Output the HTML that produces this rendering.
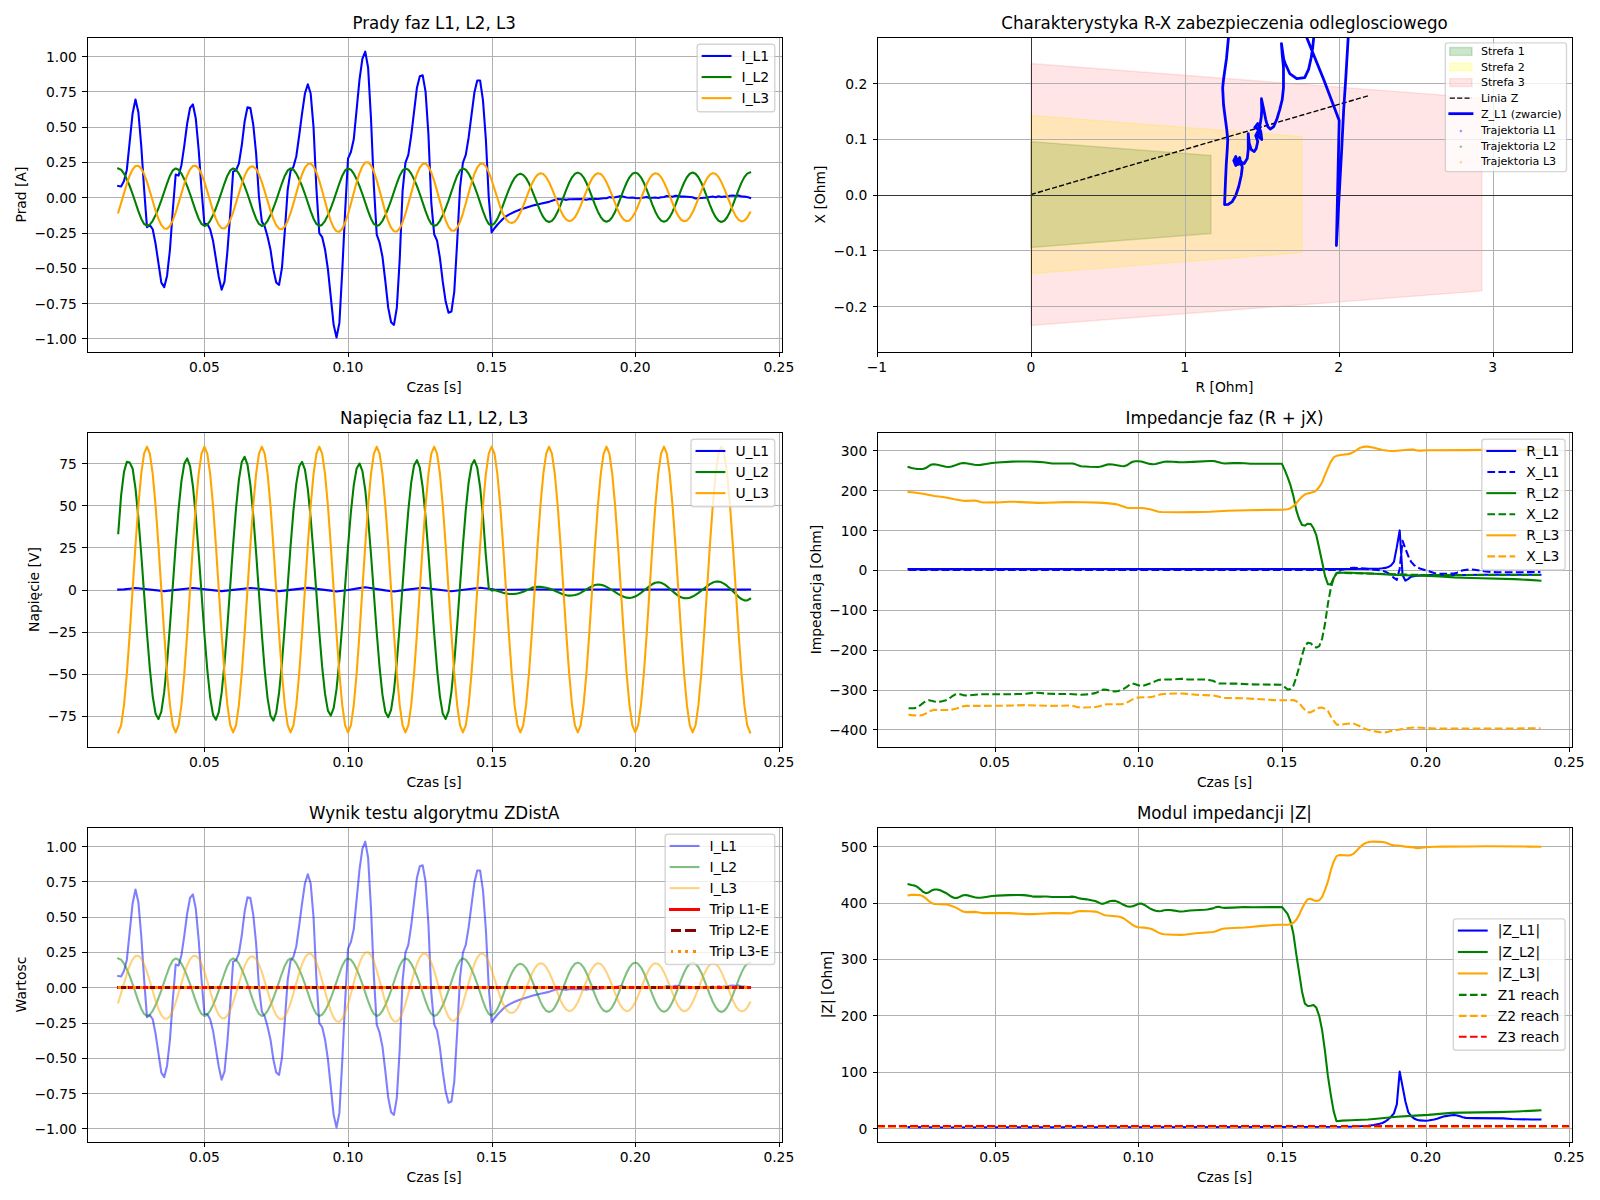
<!DOCTYPE html>
<html><head><meta charset="utf-8"><title>ZDistA</title>
<style>html,body{margin:0;padding:0;background:#fff;}svg{display:block;}text{font-family:"DejaVu Sans","Liberation Sans",sans-serif;}</style></head><body>
<svg width="1600" height="1200" viewBox="0 0 1152 864" version="1.1">
 
 <defs>
  <style type="text/css">*{stroke-linejoin: round; stroke-linecap: butt}</style>
 </defs>
 <g id="figure_1">
  <g id="patch_1">
   <path d="M 0 864 
L 1152 864 
L 1152 0 
L 0 0 
z
" style="fill: #ffffff"/>
  </g>
  <g id="axes_1">
   <g id="patch_2">
    <path d="M 62.39 253.24 
L 562.826935 253.24 
L 562.826935 26.88 
L 62.39 26.88 
z
" style="fill: #ffffff"/>
   </g>
   <g id="matplotlib.axis_1">
    <g id="xtick_1">
     <g id="line2d_1">
      <path d="M 147.17477 253.24 
L 147.17477 26.88 
" clip-path="url(#pdb59838db3)" style="fill: none; stroke: #b0b0b0; stroke-width: 0.72; stroke-linecap: square" shape-rendering="crispEdges" transform="translate(0.36 0.36)"/>
     </g>
     <g id="line2d_2">
      <defs>
       <path id="m608a63ae3f" d="M 0 0 
L 0 3.5 
" style="stroke: #000000; stroke-width: 0.72" shape-rendering="crispEdges"/>
      </defs>
      <g>
       <use xlink:href="#m608a63ae3f" x="147.17477" y="253.24" style="stroke: #000000; stroke-width: 0.72" shape-rendering="crispEdges" transform="translate(0.36 0.36)"/>
      </g>
     </g>
     <g id="text_1">
      <text style="font-size: 10px; font-family: 'DejaVu Sans', sans-serif; text-anchor: middle" x="147.17477" y="268.16" transform="rotate(-0 147.17477 268.16)">0.05</text>
     </g>
    </g>
    <g id="xtick_2">
     <g id="line2d_3">
      <path d="M 250.570831 253.24 
L 250.570831 26.88 
" clip-path="url(#pdb59838db3)" style="fill: none; stroke: #b0b0b0; stroke-width: 0.72; stroke-linecap: square" shape-rendering="crispEdges" transform="translate(0.36 0.36)"/>
     </g>
     <g id="line2d_4">
      <g>
       <use xlink:href="#m608a63ae3f" x="250.570831" y="253.24" style="stroke: #000000; stroke-width: 0.72" shape-rendering="crispEdges" transform="translate(0.36 0.36)"/>
      </g>
     </g>
     <g id="text_2">
      <text style="font-size: 10px; font-family: 'DejaVu Sans', sans-serif; text-anchor: middle" x="250.570831" y="268.16" transform="rotate(-0 250.570831 268.16)">0.10</text>
     </g>
    </g>
    <g id="xtick_3">
     <g id="line2d_5">
      <path d="M 353.966892 253.24 
L 353.966892 26.88 
" clip-path="url(#pdb59838db3)" style="fill: none; stroke: #b0b0b0; stroke-width: 0.72; stroke-linecap: square" shape-rendering="crispEdges" transform="translate(0.36 0.36)"/>
     </g>
     <g id="line2d_6">
      <g>
       <use xlink:href="#m608a63ae3f" x="353.966892" y="253.24" style="stroke: #000000; stroke-width: 0.72" shape-rendering="crispEdges" transform="translate(0.36 0.36)"/>
      </g>
     </g>
     <g id="text_3">
      <text style="font-size: 10px; font-family: 'DejaVu Sans', sans-serif; text-anchor: middle" x="353.966892" y="268.16" transform="rotate(-0 353.966892 268.16)">0.15</text>
     </g>
    </g>
    <g id="xtick_4">
     <g id="line2d_7">
      <path d="M 457.362953 253.24 
L 457.362953 26.88 
" clip-path="url(#pdb59838db3)" style="fill: none; stroke: #b0b0b0; stroke-width: 0.72; stroke-linecap: square" shape-rendering="crispEdges" transform="translate(0.36 0.36)"/>
     </g>
     <g id="line2d_8">
      <g>
       <use xlink:href="#m608a63ae3f" x="457.362953" y="253.24" style="stroke: #000000; stroke-width: 0.72" shape-rendering="crispEdges" transform="translate(0.36 0.36)"/>
      </g>
     </g>
     <g id="text_4">
      <text style="font-size: 10px; font-family: 'DejaVu Sans', sans-serif; text-anchor: middle" x="457.362953" y="268.16" transform="rotate(-0 457.362953 268.16)">0.20</text>
     </g>
    </g>
    <g id="xtick_5">
     <g id="line2d_9">
      <path d="M 560.759013 253.24 
L 560.759013 26.88 
" clip-path="url(#pdb59838db3)" style="fill: none; stroke: #b0b0b0; stroke-width: 0.72; stroke-linecap: square" shape-rendering="crispEdges" transform="translate(0.36 0.36)"/>
     </g>
     <g id="line2d_10">
      <g>
       <use xlink:href="#m608a63ae3f" x="560.759013" y="253.24" style="stroke: #000000; stroke-width: 0.72" shape-rendering="crispEdges" transform="translate(0.36 0.36)"/>
      </g>
     </g>
     <g id="text_5">
      <text style="font-size: 10px; font-family: 'DejaVu Sans', sans-serif; text-anchor: middle" x="560.759013" y="268.16" transform="rotate(-0 560.759013 268.16)">0.25</text>
     </g>
    </g>
    <g id="text_6">
     <text style="font-size: 10px; font-family: 'DejaVu Sans', sans-serif; text-anchor: middle" x="312.608467" y="282.24" transform="rotate(-0 312.608467 282.24)">Czas [s]</text>
    </g>
   </g>
   <g id="matplotlib.axis_2">
    <g id="ytick_1">
     <g id="line2d_11">
      <path d="M 62.39 243.662605 
L 562.826935 243.662605 
" clip-path="url(#pdb59838db3)" style="fill: none; stroke: #b0b0b0; stroke-width: 0.72; stroke-linecap: square" shape-rendering="crispEdges" transform="translate(0.36 0.36)"/>
     </g>
     <g id="line2d_12">
      <defs>
       <path id="mea49831cd3" d="M 0 0 
L -3.5 0 
" style="stroke: #000000; stroke-width: 0.72" shape-rendering="crispEdges"/>
      </defs>
      <g>
       <use xlink:href="#mea49831cd3" x="62.39" y="243.662605" style="stroke: #000000; stroke-width: 0.72" shape-rendering="crispEdges" transform="translate(0.36 0.36)"/>
      </g>
     </g>
     <g id="text_7">
      <text style="font-size: 10px; font-family: 'DejaVu Sans', sans-serif; text-anchor: end" x="55.39" y="247.622605" transform="rotate(-0 55.39 247.622605)">−1.00</text>
     </g>
    </g>
    <g id="ytick_2">
     <g id="line2d_13">
      <path d="M 62.39 218.24489 
L 562.826935 218.24489 
" clip-path="url(#pdb59838db3)" style="fill: none; stroke: #b0b0b0; stroke-width: 0.72; stroke-linecap: square" shape-rendering="crispEdges" transform="translate(0.36 0.36)"/>
     </g>
     <g id="line2d_14">
      <g>
       <use xlink:href="#mea49831cd3" x="62.39" y="218.24489" style="stroke: #000000; stroke-width: 0.72" shape-rendering="crispEdges" transform="translate(0.36 0.36)"/>
      </g>
     </g>
     <g id="text_8">
      <text style="font-size: 10px; font-family: 'DejaVu Sans', sans-serif; text-anchor: end" x="55.39" y="222.20489" transform="rotate(-0 55.39 222.20489)">−0.75</text>
     </g>
    </g>
    <g id="ytick_3">
     <g id="line2d_15">
      <path d="M 62.39 192.827176 
L 562.826935 192.827176 
" clip-path="url(#pdb59838db3)" style="fill: none; stroke: #b0b0b0; stroke-width: 0.72; stroke-linecap: square" shape-rendering="crispEdges" transform="translate(0.36 0.36)"/>
     </g>
     <g id="line2d_16">
      <g>
       <use xlink:href="#mea49831cd3" x="62.39" y="192.827176" style="stroke: #000000; stroke-width: 0.72" shape-rendering="crispEdges" transform="translate(0.36 0.36)"/>
      </g>
     </g>
     <g id="text_9">
      <text style="font-size: 10px; font-family: 'DejaVu Sans', sans-serif; text-anchor: end" x="55.39" y="196.787176" transform="rotate(-0 55.39 196.787176)">−0.50</text>
     </g>
    </g>
    <g id="ytick_4">
     <g id="line2d_17">
      <path d="M 62.39 167.409461 
L 562.826935 167.409461 
" clip-path="url(#pdb59838db3)" style="fill: none; stroke: #b0b0b0; stroke-width: 0.72; stroke-linecap: square" shape-rendering="crispEdges" transform="translate(0.36 0.36)"/>
     </g>
     <g id="line2d_18">
      <g>
       <use xlink:href="#mea49831cd3" x="62.39" y="167.409461" style="stroke: #000000; stroke-width: 0.72" shape-rendering="crispEdges" transform="translate(0.36 0.36)"/>
      </g>
     </g>
     <g id="text_10">
      <text style="font-size: 10px; font-family: 'DejaVu Sans', sans-serif; text-anchor: end" x="55.39" y="171.369461" transform="rotate(-0 55.39 171.369461)">−0.25</text>
     </g>
    </g>
    <g id="ytick_5">
     <g id="line2d_19">
      <path d="M 62.39 141.991746 
L 562.826935 141.991746 
" clip-path="url(#pdb59838db3)" style="fill: none; stroke: #b0b0b0; stroke-width: 0.72; stroke-linecap: square" shape-rendering="crispEdges" transform="translate(0.36 0.36)"/>
     </g>
     <g id="line2d_20">
      <g>
       <use xlink:href="#mea49831cd3" x="62.39" y="141.991746" style="stroke: #000000; stroke-width: 0.72" shape-rendering="crispEdges" transform="translate(0.36 0.36)"/>
      </g>
     </g>
     <g id="text_11">
      <text style="font-size: 10px; font-family: 'DejaVu Sans', sans-serif; text-anchor: end" x="55.39" y="145.951746" transform="rotate(-0 55.39 145.951746)">0.00</text>
     </g>
    </g>
    <g id="ytick_6">
     <g id="line2d_21">
      <path d="M 62.39 116.574032 
L 562.826935 116.574032 
" clip-path="url(#pdb59838db3)" style="fill: none; stroke: #b0b0b0; stroke-width: 0.72; stroke-linecap: square" shape-rendering="crispEdges" transform="translate(0.36 0.36)"/>
     </g>
     <g id="line2d_22">
      <g>
       <use xlink:href="#mea49831cd3" x="62.39" y="116.574032" style="stroke: #000000; stroke-width: 0.72" shape-rendering="crispEdges" transform="translate(0.36 0.36)"/>
      </g>
     </g>
     <g id="text_12">
      <text style="font-size: 10px; font-family: 'DejaVu Sans', sans-serif; text-anchor: end" x="55.39" y="120.534032" transform="rotate(-0 55.39 120.534032)">0.25</text>
     </g>
    </g>
    <g id="ytick_7">
     <g id="line2d_23">
      <path d="M 62.39 91.156317 
L 562.826935 91.156317 
" clip-path="url(#pdb59838db3)" style="fill: none; stroke: #b0b0b0; stroke-width: 0.72; stroke-linecap: square" shape-rendering="crispEdges" transform="translate(0.36 0.36)"/>
     </g>
     <g id="line2d_24">
      <g>
       <use xlink:href="#mea49831cd3" x="62.39" y="91.156317" style="stroke: #000000; stroke-width: 0.72" shape-rendering="crispEdges" transform="translate(0.36 0.36)"/>
      </g>
     </g>
     <g id="text_13">
      <text style="font-size: 10px; font-family: 'DejaVu Sans', sans-serif; text-anchor: end" x="55.39" y="95.116317" transform="rotate(-0 55.39 95.116317)">0.50</text>
     </g>
    </g>
    <g id="ytick_8">
     <g id="line2d_25">
      <path d="M 62.39 65.738602 
L 562.826935 65.738602 
" clip-path="url(#pdb59838db3)" style="fill: none; stroke: #b0b0b0; stroke-width: 0.72; stroke-linecap: square" shape-rendering="crispEdges" transform="translate(0.36 0.36)"/>
     </g>
     <g id="line2d_26">
      <g>
       <use xlink:href="#mea49831cd3" x="62.39" y="65.738602" style="stroke: #000000; stroke-width: 0.72" shape-rendering="crispEdges" transform="translate(0.36 0.36)"/>
      </g>
     </g>
     <g id="text_14">
      <text style="font-size: 10px; font-family: 'DejaVu Sans', sans-serif; text-anchor: end" x="55.39" y="69.698602" transform="rotate(-0 55.39 69.698602)">0.75</text>
     </g>
    </g>
    <g id="ytick_9">
     <g id="line2d_27">
      <path d="M 62.39 40.320888 
L 562.826935 40.320888 
" clip-path="url(#pdb59838db3)" style="fill: none; stroke: #b0b0b0; stroke-width: 0.72; stroke-linecap: square" shape-rendering="crispEdges" transform="translate(0.36 0.36)"/>
     </g>
     <g id="line2d_28">
      <g>
       <use xlink:href="#mea49831cd3" x="62.39" y="40.320888" style="stroke: #000000; stroke-width: 0.72" shape-rendering="crispEdges" transform="translate(0.36 0.36)"/>
      </g>
     </g>
     <g id="text_15">
      <text style="font-size: 10px; font-family: 'DejaVu Sans', sans-serif; text-anchor: end" x="55.39" y="44.280888" transform="rotate(-0 55.39 44.280888)">1.00</text>
     </g>
    </g>
    <g id="text_16">
     <text style="font-size: 10px; font-family: 'DejaVu Sans', sans-serif; text-anchor: middle" x="18.72" y="140.06" transform="rotate(-90 18.72 140.06)">Prad [A]</text>
    </g>
   </g>
   <g id="line2d_29">
    <path d="M 85.137133 133.858078 
L 87.205055 134.264761 
L 89.272976 130.401268 
L 91.340897 122.165929 
L 95.476739 81.700927 
L 97.544661 71.635512 
L 99.612582 80.582548 
L 101.680503 104.780212 
L 103.748424 135.891495 
L 105.816346 163.545968 
L 107.884267 162.122576 
L 109.952188 165.071031 
L 112.020109 175.54313 
L 116.155952 203.502616 
L 118.223873 206.756083 
L 120.291794 198.520744 
L 122.359715 179.813306 
L 124.427637 151.142124 
L 126.495558 125.622738 
L 128.563479 126.436105 
L 130.6314 118.912461 
L 132.699321 104.780212 
L 134.767243 88.919558 
L 136.835164 77.735764 
L 138.903085 75.193992 
L 140.971006 85.361078 
L 143.038927 107.728667 
L 145.106849 136.603191 
L 147.17477 161.309209 
L 149.242691 161.309209 
L 151.310612 165.071031 
L 153.378534 173.306371 
L 157.514376 199.23244 
L 159.582297 208.586159 
L 161.650218 202.79092 
L 163.71814 181.236698 
L 165.786061 153.887237 
L 167.853982 123.589321 
L 169.921903 122.674283 
L 171.989825 117.794082 
L 174.057746 104.780212 
L 176.125667 87.496166 
L 178.193588 77.227409 
L 180.261509 77.735764 
L 182.329431 89.631254 
L 184.397352 110.47378 
L 186.465273 141.991746 
L 188.533194 159.580805 
L 190.601115 163.139285 
L 192.669037 170.459587 
L 194.736958 179.609964 
L 196.804879 193.843884 
L 198.8728 203.400945 
L 200.940722 205.12935 
L 203.008643 192.827176 
L 205.076564 166.392752 
L 207.144485 136.603191 
L 209.212406 122.979296 
L 211.280328 120.132512 
L 213.348249 112.507197 
L 215.41617 97.561581 
L 217.484091 81.700927 
L 219.552013 67.365336 
L 221.619934 60.655059 
L 223.687855 67.365336 
L 225.755776 91.766342 
L 227.823697 135.891495 
L 229.891619 167.816144 
L 231.95954 170.662928 
L 234.027461 179.609964 
L 236.095382 193.843884 
L 240.231225 233.902203 
L 242.299146 242.950909 
L 244.367067 232.478811 
L 246.434988 194.860593 
L 248.50291 152.158832 
L 250.570831 114.235602 
L 252.638752 109.457072 
L 254.706673 100.306694 
L 258.842516 57.299921 
L 260.910437 42.354305 
L 262.978358 37.169091 
L 265.046279 48.759569 
L 267.114201 85.361078 
L 269.182122 133.858078 
L 271.250043 168.934524 
L 273.317964 174.729763 
L 275.385885 184.896849 
L 277.453807 202.587578 
L 279.521728 221.498358 
L 281.589649 232.072127 
L 283.65757 233.902203 
L 285.725491 221.498358 
L 287.793413 186.726924 
L 289.861334 137.416558 
L 291.929255 117.082386 
L 293.997176 111.490489 
L 296.065098 97.561581 
L 300.20094 63.09516 
L 302.268861 54.85982 
L 304.336782 54.249795 
L 306.404704 65.941944 
L 308.472625 96.849885 
L 310.540546 146.058581 
L 312.608467 168.629511 
L 314.676389 173.306371 
L 316.74431 185.710216 
L 318.812231 202.994262 
L 320.880152 217.126511 
L 322.948073 225.158509 
L 325.015995 224.345142 
L 327.083916 209.90788 
L 329.151837 174.526421 
L 331.219758 135.179799 
L 333.287679 117.184057 
L 335.355601 111.490489 
L 337.423522 98.984973 
L 341.559364 66.65364 
L 343.627286 58.011617 
L 345.695207 58.011617 
L 347.763128 72.448879 
L 349.831049 100.408365 
L 351.89897 141.991746 
L 353.966892 167.409461 
L 356.034813 164.359335 
L 358.102734 161.817223 
L 360.170655 159.580805 
L 362.238577 157.530411 
L 364.306498 155.818983 
L 366.374419 154.522063 
L 370.510261 152.463845 
L 374.646104 150.837111 
L 380.849867 148.834153 
L 384.98571 147.685314 
L 389.121552 146.745072 
L 395.325316 145.346885 
L 397.393237 144.615861 
L 401.52908 143.33468 
L 403.597001 143.516748 
L 405.664922 143.492282 
L 407.732843 143.898988 
L 409.800765 143.412723 
L 418.072449 143.265229 
L 420.140371 143.476247 
L 422.208292 143.809282 
L 424.276213 143.351334 
L 426.344134 143.394469 
L 428.412055 143.088294 
L 430.479977 143.270005 
L 434.615819 142.788866 
L 436.68374 142.791509 
L 438.751662 141.939211 
L 440.819583 142.251441 
L 442.887504 142.07888 
L 447.023346 141.207318 
L 449.091268 141.620059 
L 451.159189 142.167379 
L 453.22711 142.359234 
L 455.295031 142.246014 
L 457.362953 142.540899 
L 459.430874 142.684496 
L 461.498795 142.517359 
L 465.634637 141.856112 
L 467.702559 142.612987 
L 469.77048 142.360454 
L 471.838401 142.261928 
L 473.906322 142.505493 
L 475.974244 141.959678 
L 478.042165 141.845309 
L 480.110086 141.17059 
L 484.245928 141.611316 
L 486.31385 140.946229 
L 488.381771 141.167264 
L 490.449692 141.579402 
L 492.517613 141.443845 
L 498.721377 141.984194 
L 500.789298 142.87279 
L 509.060983 142.191478 
L 513.196825 141.507226 
L 515.264747 141.97098 
L 517.332668 141.343496 
L 519.400589 141.907605 
L 521.46851 141.473937 
L 523.536432 141.708967 
L 525.604353 140.878757 
L 527.672274 140.755752 
L 529.740195 141.126887 
L 531.808116 140.691401 
L 533.876038 141.49431 
L 535.943959 141.553984 
L 538.01188 141.886524 
L 540.079801 142.567253 
L 540.079801 142.567253 
" clip-path="url(#pdb59838db3)" style="fill: none; stroke: #0000ff; stroke-width: 1.5; stroke-linecap: square"/>
   </g>
   <g id="line2d_30">
    <path d="M 85.137133 121.288096 
L 87.205055 122.20147 
L 89.272976 125.012688 
L 91.340897 129.105649 
L 93.408818 134.052305 
L 95.476739 139.67715 
L 99.612582 152.02937 
L 101.680503 157.483928 
L 103.748424 161.248145 
L 105.816346 162.695396 
L 107.884267 161.782022 
L 109.952188 158.970804 
L 112.020109 154.877843 
L 114.08803 149.931188 
L 116.155952 144.306342 
L 120.291794 131.954122 
L 122.359715 126.499565 
L 124.427637 122.735347 
L 126.495558 121.288096 
L 128.563479 122.20147 
L 130.6314 125.012688 
L 132.699321 129.105649 
L 134.767243 134.052305 
L 136.835164 139.67715 
L 140.971006 152.02937 
L 143.038927 157.483928 
L 145.106849 161.248145 
L 147.17477 162.695396 
L 149.242691 161.782022 
L 151.310612 158.970804 
L 153.378534 154.877843 
L 155.446455 149.931188 
L 157.514376 144.306342 
L 161.650218 131.954122 
L 163.71814 126.499565 
L 165.786061 122.735347 
L 167.853982 121.288096 
L 169.921903 122.20147 
L 171.989825 125.012688 
L 174.057746 129.105649 
L 176.125667 134.052305 
L 178.193588 139.67715 
L 182.329431 152.02937 
L 184.397352 157.483928 
L 186.465273 161.248145 
L 188.533194 162.695396 
L 190.601115 161.782022 
L 192.669037 158.970804 
L 194.736958 154.877843 
L 196.804879 149.931188 
L 198.8728 144.306342 
L 203.008643 131.954122 
L 205.076564 126.499565 
L 207.144485 122.735347 
L 209.212406 121.288096 
L 211.280328 122.20147 
L 213.348249 125.012688 
L 215.41617 129.105649 
L 217.484091 134.052305 
L 219.552013 139.67715 
L 223.687855 152.02937 
L 225.755776 157.483928 
L 227.823697 161.248145 
L 229.891619 162.695396 
L 231.95954 161.782022 
L 234.027461 158.970804 
L 236.095382 154.877843 
L 238.163303 149.931188 
L 240.231225 144.306342 
L 244.367067 131.954122 
L 246.434988 126.499565 
L 248.50291 122.735347 
L 250.570831 121.288096 
L 252.638752 122.20147 
L 254.706673 125.012688 
L 256.774594 129.105649 
L 258.842516 134.052305 
L 260.910437 139.67715 
L 265.046279 152.02937 
L 267.114201 157.483928 
L 269.182122 161.248145 
L 271.250043 162.695396 
L 273.317964 161.782022 
L 275.385885 158.970804 
L 277.453807 154.877843 
L 279.521728 149.931188 
L 281.589649 144.306342 
L 285.725491 131.954122 
L 287.793413 126.499565 
L 289.861334 122.735347 
L 291.929255 121.288096 
L 293.997176 122.20147 
L 296.065098 125.012688 
L 298.133019 129.105649 
L 300.20094 134.052305 
L 302.268861 139.67715 
L 306.404704 152.02937 
L 308.472625 157.483928 
L 310.540546 161.248145 
L 312.608467 162.695396 
L 314.676389 161.782022 
L 316.74431 158.970804 
L 318.812231 154.877843 
L 320.880152 149.931188 
L 322.948073 144.306342 
L 327.083916 131.954122 
L 329.151837 126.499565 
L 331.219758 122.735347 
L 333.287679 121.288096 
L 335.355601 122.20147 
L 337.423522 125.012688 
L 339.491443 129.105649 
L 341.559364 134.052305 
L 343.627286 139.67715 
L 347.763128 152.02937 
L 349.831049 157.483928 
L 351.89897 161.248145 
L 353.966892 162.325918 
L 356.034813 160.800032 
L 358.102734 157.561996 
L 360.170655 153.013041 
L 364.306498 141.991746 
L 366.374419 136.569247 
L 368.44234 131.843435 
L 370.510261 128.194223 
L 372.578183 125.897101 
L 374.646104 125.114384 
L 376.714025 125.913346 
L 378.781946 128.25213 
L 380.849867 131.942399 
L 382.917789 136.665763 
L 389.121552 152.380534 
L 391.189474 156.38281 
L 393.257395 158.982945 
L 395.325316 159.885817 
L 397.393237 159.004604 
L 399.461158 156.451245 
L 401.52908 152.483801 
L 403.597001 147.4992 
L 407.732843 136.502892 
L 409.800765 131.56758 
L 411.868686 127.662537 
L 413.936607 125.161448 
L 416.004528 124.301017 
L 418.072449 125.166862 
L 420.140371 127.679639 
L 422.208292 131.593382 
L 424.276213 136.524992 
L 428.412055 147.458545 
L 430.479977 152.390286 
L 432.547898 156.304237 
L 434.615819 158.817283 
L 436.68374 159.683417 
L 438.751662 158.817821 
L 440.819583 156.305163 
L 442.887504 152.391312 
L 444.955425 147.459281 
L 449.091268 136.523819 
L 451.159189 131.590678 
L 453.22711 127.675204 
L 455.295031 125.160722 
L 457.362953 124.293486 
L 459.430874 125.158571 
L 461.498795 127.671536 
L 463.566716 131.586664 
L 465.634637 136.520989 
L 469.77048 147.463595 
L 471.838401 152.400988 
L 473.906322 156.320566 
L 475.974244 158.838466 
L 478.042165 159.707893 
L 480.110086 158.843302 
L 482.178007 156.328803 
L 484.245928 152.409982 
L 486.31385 147.469916 
L 490.449692 136.511438 
L 492.517613 131.565368 
L 494.585534 127.637855 
L 496.653456 125.113753 
L 498.721377 124.240767 
L 500.789298 125.105156 
L 502.857219 127.62322 
L 504.925141 131.549402 
L 506.993062 136.50023 
L 511.128904 147.486798 
L 513.196825 152.447546 
L 515.264747 156.388075 
L 517.332668 158.921964 
L 519.400589 159.80015 
L 521.46851 158.935395 
L 523.536432 156.410935 
L 525.604353 152.472476 
L 527.672274 147.50429 
L 531.808116 136.473922 
L 533.876038 131.490922 
L 535.943959 127.531047 
L 538.01188 124.982983 
L 540.079801 124.097675 
L 540.079801 124.097675 
" clip-path="url(#pdb59838db3)" style="fill: none; stroke: #008000; stroke-width: 1.5; stroke-linecap: square"/>
   </g>
   <g id="line2d_31">
    <path d="M 85.137133 153.012316 
L 87.205055 146.278271 
L 91.340897 132.251643 
L 93.408818 126.332086 
L 95.476739 121.945404 
L 97.544661 119.520999 
L 99.612582 119.296187 
L 101.680503 121.292974 
L 103.748424 125.315901 
L 105.816346 130.971177 
L 107.884267 137.705222 
L 112.020109 151.731849 
L 114.08803 157.651407 
L 116.155952 162.038088 
L 118.223873 164.462494 
L 120.291794 164.687306 
L 122.359715 162.690519 
L 124.427637 158.667591 
L 126.495558 153.012316 
L 128.563479 146.278271 
L 132.699321 132.251643 
L 134.767243 126.332086 
L 136.835164 121.945404 
L 138.903085 119.520999 
L 140.971006 119.296187 
L 143.038927 121.296309 
L 145.106849 125.326277 
L 147.17477 130.986054 
L 149.242691 137.715129 
L 153.378534 151.685097 
L 155.446455 157.55336 
L 157.514376 161.881281 
L 159.582297 164.250145 
L 161.650218 164.435133 
L 163.71814 162.426149 
L 165.786061 158.427459 
L 167.853982 152.836415 
L 169.921903 146.20359 
L 174.057746 132.44558 
L 176.125667 126.658938 
L 178.193588 122.378405 
L 180.261509 120.016729 
L 182.329431 119.800533 
L 184.397352 121.742521 
L 186.465273 125.653865 
L 188.533194 131.169057 
L 190.601115 137.76898 
L 194.736958 151.666049 
L 196.804879 157.621712 
L 198.8728 162.1058 
L 200.940722 164.664231 
L 203.008643 165.023536 
L 205.076564 163.121053 
L 207.144485 159.115245 
L 209.212406 153.374444 
L 211.280328 146.444397 
L 215.41617 131.766226 
L 217.484091 125.47324 
L 219.552013 120.755097 
L 221.619934 118.097519 
L 223.687855 117.783149 
L 225.755776 119.851036 
L 227.823697 124.103382 
L 229.891619 130.13594 
L 231.95954 137.367126 
L 236.095382 152.559542 
L 238.163303 159.028703 
L 240.231225 163.859187 
L 242.299146 166.566505 
L 244.367067 166.872804 
L 246.434988 164.735787 
L 248.50291 160.354446 
L 250.570831 154.150822 
L 252.638752 146.729404 
L 256.774594 131.195961 
L 258.842516 124.616657 
L 260.910437 119.732288 
L 262.978358 117.028327 
L 265.046279 116.774458 
L 267.114201 118.99978 
L 269.182122 123.483782 
L 271.250043 129.776424 
L 273.317964 137.248755 
L 277.453807 152.720578 
L 279.521728 159.195276 
L 281.589649 163.951846 
L 283.65757 166.534546 
L 285.725491 166.704689 
L 287.793413 164.461644 
L 289.861334 160.040199 
L 291.929255 153.885023 
L 293.997176 146.60519 
L 298.133019 131.557282 
L 300.20094 125.245827 
L 302.268861 120.584035 
L 304.336782 118.015709 
L 306.404704 117.783149 
L 308.472625 119.913056 
L 310.540546 124.204178 
L 312.608467 130.236472 
L 314.676389 137.419454 
L 318.812231 152.381189 
L 320.880152 158.695384 
L 322.948073 163.374511 
L 325.015995 165.960544 
L 327.083916 166.200343 
L 329.151837 164.070437 
L 331.219758 159.779314 
L 333.287679 153.747021 
L 335.355601 146.564039 
L 339.491443 131.602303 
L 341.559364 125.288108 
L 343.627286 120.608982 
L 345.695207 118.022949 
L 347.763128 117.741625 
L 349.831049 119.787651 
L 351.89897 123.950149 
L 353.966892 129.589499 
L 360.170655 149.038155 
L 362.238577 154.125383 
L 364.306498 157.793427 
L 366.374419 159.931861 
L 368.44234 160.587552 
L 370.510261 159.722938 
L 372.578183 157.181981 
L 374.646104 153.235269 
L 376.714025 148.287059 
L 380.849867 137.366367 
L 382.917789 132.42511 
L 384.98571 128.452832 
L 387.053631 125.808206 
L 389.121552 124.726888 
L 391.189474 125.320291 
L 393.257395 127.54561 
L 395.325316 131.185015 
L 397.393237 135.882259 
L 403.597001 151.48118 
L 405.664922 155.48095 
L 407.732843 158.16036 
L 409.800765 159.257127 
L 411.868686 158.663872 
L 413.936607 156.438634 
L 416.004528 152.799187 
L 418.072449 148.101729 
L 424.276213 132.501001 
L 426.344134 128.500372 
L 428.412055 125.820135 
L 430.479977 124.722711 
L 432.547898 125.315622 
L 434.615819 127.540962 
L 436.68374 131.181047 
L 438.751662 135.879717 
L 444.955425 151.486731 
L 447.023346 155.489696 
L 449.091268 158.171929 
L 451.159189 159.270702 
L 453.22711 158.678221 
L 455.295031 156.452195 
L 457.362953 152.810214 
L 459.430874 148.108484 
L 465.634637 132.487874 
L 467.702559 128.480367 
L 469.77048 125.794484 
L 471.838401 124.693472 
L 473.906322 125.285543 
L 475.974244 127.513246 
L 478.042165 131.159039 
L 480.110086 135.866532 
L 486.31385 151.510877 
L 488.381771 155.525856 
L 490.449692 158.21753 
L 492.517613 159.321871 
L 494.585534 158.730081 
L 496.653456 156.499308 
L 498.721377 152.847125 
L 500.789298 148.130315 
L 506.993062 132.449264 
L 509.060983 128.423158 
L 511.128904 125.723066 
L 513.196825 124.614109 
L 515.264747 125.205852 
L 517.332668 127.441492 
L 519.400589 131.103304 
L 521.46851 135.833836 
L 527.672274 151.567394 
L 529.740195 155.60901 
L 531.808116 158.320633 
L 533.876038 159.435694 
L 535.943959 158.843653 
L 538.01188 156.600945 
L 540.079801 152.925607 
L 540.079801 152.925607 
" clip-path="url(#pdb59838db3)" style="fill: none; stroke: #ffa500; stroke-width: 1.5; stroke-linecap: square"/>
   </g>
   <g id="patch_3">
    <path d="M 62.39 253.24 
L 62.39 26.88 
" style="fill: none; stroke: #000000; stroke-width: 0.72; stroke-linejoin: miter; stroke-linecap: square" shape-rendering="crispEdges" transform="translate(0.36 0.36)"/>
   </g>
   <g id="patch_4">
    <path d="M 562.826935 253.24 
L 562.826935 26.88 
" style="fill: none; stroke: #000000; stroke-width: 0.72; stroke-linejoin: miter; stroke-linecap: square" shape-rendering="crispEdges" transform="translate(0.36 0.36)"/>
   </g>
   <g id="patch_5">
    <path d="M 62.39 253.24 
L 562.826935 253.24 
" style="fill: none; stroke: #000000; stroke-width: 0.72; stroke-linejoin: miter; stroke-linecap: square" shape-rendering="crispEdges" transform="translate(0.36 0.36)"/>
   </g>
   <g id="patch_6">
    <path d="M 62.39 26.88 
L 562.826935 26.88 
" style="fill: none; stroke: #000000; stroke-width: 0.72; stroke-linejoin: miter; stroke-linecap: square" shape-rendering="crispEdges" transform="translate(0.36 0.36)"/>
   </g>
   <g id="text_17">
    <text style="font-size: 12px; font-family: 'DejaVu Sans', sans-serif; text-anchor: middle" x="312.608467" y="20.88" transform="translate(312.608467 20.88) scale(1 1.09) translate(-312.608467 -20.88)">Prady faz L1, L2, L3</text>
   </g>
   <g id="legend_1">
    <g id="patch_7">
     <path d="M 503.936935 80.42375 
L 555.826935 80.42375 
Q 557.826935 80.42375 557.826935 78.42375 
L 557.826935 33.88 
Q 557.826935 31.88 555.826935 31.88 
L 503.936935 31.88 
Q 501.936935 31.88 501.936935 33.88 
L 501.936935 78.42375 
Q 501.936935 80.42375 503.936935 80.42375 
z
" style="fill: #ffffff; opacity: 0.8; stroke: #cccccc; stroke-linejoin: miter"/>
    </g>
    <g id="line2d_32">
     <path d="M 505.936935 40.3 
L 515.936935 40.3 
L 525.936935 40.3 
" style="fill: none; stroke: #0000ff; stroke-width: 1.5; stroke-linecap: square"/>
    </g>
    <g id="text_18">
     <text style="font-size: 10px; font-family: 'DejaVu Sans', sans-serif; text-anchor: start" x="533.936935" y="43.8" transform="rotate(-0 533.936935 43.8)">I_L1</text>
    </g>
    <g id="line2d_33">
     <path d="M 505.936935 55.48125 
L 515.936935 55.48125 
L 525.936935 55.48125 
" style="fill: none; stroke: #008000; stroke-width: 1.5; stroke-linecap: square"/>
    </g>
    <g id="text_19">
     <text style="font-size: 10px; font-family: 'DejaVu Sans', sans-serif; text-anchor: start" x="533.936935" y="58.98125" transform="rotate(-0 533.936935 58.98125)">I_L2</text>
    </g>
    <g id="line2d_34">
     <path d="M 505.936935 70.6625 
L 515.936935 70.6625 
L 525.936935 70.6625 
" style="fill: none; stroke: #ffa500; stroke-width: 1.5; stroke-linecap: square"/>
    </g>
    <g id="text_20">
     <text style="font-size: 10px; font-family: 'DejaVu Sans', sans-serif; text-anchor: start" x="533.936935" y="74.1625" transform="rotate(-0 533.936935 74.1625)">I_L3</text>
    </g>
   </g>
  </g>
  <g id="axes_2">
   <g id="patch_8">
    <path d="M 631.415 253.24 
L 1131.851935 253.24 
L 1131.851935 26.88 
L 631.415 26.88 
z
" style="fill: #ffffff"/>
   </g>
   <g id="patch_9">
    <path d="M 742.229202 101.931986 
L 871.881818 111.965674 
L 871.881818 168.154326 
L 742.229202 178.188014 
z
" clip-path="url(#p9f9fd53c19)" style="fill: #008000; fill-opacity: 0.2; stroke: #008000; stroke-opacity: 0.2; stroke-linejoin: miter"/>
   </g>
   <g id="patch_10">
    <path d="M 742.229202 83.068652 
L 937.262197 98.319858 
L 937.262197 181.800142 
L 742.229202 197.051348 
z
" clip-path="url(#p9f9fd53c19)" style="fill: #ffff00; fill-opacity: 0.2; stroke: #ffff00; stroke-opacity: 0.2; stroke-linejoin: miter"/>
   </g>
   <g id="patch_11">
    <path d="M 742.229202 45.743333 
L 1066.914812 70.626879 
L 1066.914812 209.493121 
L 742.229202 234.376667 
z
" clip-path="url(#p9f9fd53c19)" style="fill: #ff0000; fill-opacity: 0.1; stroke: #ff0000; stroke-opacity: 0.1; stroke-linejoin: miter"/>
   </g>
   <g id="PathCollection_1">
    <defs>
     <path id="m1749b391a8" d="M 0 0.5 
C 0.132602 0.5 0.25979 0.447317 0.353553 0.353553 
C 0.447317 0.25979 0.5 0.132602 0.5 0 
C 0.5 -0.132602 0.447317 -0.25979 0.353553 -0.353553 
C 0.25979 -0.447317 0.132602 -0.5 0 -0.5 
C -0.132602 -0.5 -0.25979 -0.447317 -0.353553 -0.353553 
C -0.447317 -0.25979 -0.5 -0.132602 -0.5 0 
C -0.5 0.132602 -0.447317 0.25979 -0.353553 0.353553 
C -0.25979 0.447317 -0.132602 0.5 0 0.5 
z
" style="stroke: #0000ff; stroke-opacity: 0.3"/>
    </defs>
    <g clip-path="url(#p9f9fd53c19)"/>
   </g>
   <g id="PathCollection_2">
    <defs>
     <path id="m7df83b3445" d="M 0 0.5 
C 0.132602 0.5 0.25979 0.447317 0.353553 0.353553 
C 0.447317 0.25979 0.5 0.132602 0.5 0 
C 0.5 -0.132602 0.447317 -0.25979 0.353553 -0.353553 
C 0.25979 -0.447317 0.132602 -0.5 0 -0.5 
C -0.132602 -0.5 -0.25979 -0.447317 -0.353553 -0.353553 
C -0.447317 -0.25979 -0.5 -0.132602 -0.5 0 
C -0.5 0.132602 -0.447317 0.25979 -0.353553 0.353553 
C -0.25979 0.447317 -0.132602 0.5 0 0.5 
z
" style="stroke: #008000; stroke-opacity: 0.3"/>
    </defs>
    <g clip-path="url(#p9f9fd53c19)"/>
   </g>
   <g id="PathCollection_3">
    <defs>
     <path id="m35fae37a4c" d="M 0 0.5 
C 0.132602 0.5 0.25979 0.447317 0.353553 0.353553 
C 0.447317 0.25979 0.5 0.132602 0.5 0 
C 0.5 -0.132602 0.447317 -0.25979 0.353553 -0.353553 
C 0.25979 -0.447317 0.132602 -0.5 0 -0.5 
C -0.132602 -0.5 -0.25979 -0.447317 -0.353553 -0.353553 
C -0.447317 -0.25979 -0.5 -0.132602 -0.5 0 
C -0.5 0.132602 -0.447317 0.25979 -0.353553 0.353553 
C -0.25979 0.447317 -0.132602 0.5 0 0.5 
z
" style="stroke: #ffa500; stroke-opacity: 0.3"/>
    </defs>
    <g clip-path="url(#p9f9fd53c19)"/>
   </g>
   <g id="matplotlib.axis_3">
    <g id="xtick_6">
     <g id="line2d_35">
      <path d="M 631.415 253.24 
L 631.415 26.88 
" clip-path="url(#p9f9fd53c19)" style="fill: none; stroke: #b0b0b0; stroke-width: 0.72; stroke-linecap: square" shape-rendering="crispEdges" transform="translate(0.36 0.36)"/>
     </g>
     <g id="line2d_36">
      <g>
       <use xlink:href="#m608a63ae3f" x="631.415" y="253.24" style="stroke: #000000; stroke-width: 0.72" shape-rendering="crispEdges" transform="translate(0.36 0.36)"/>
      </g>
     </g>
     <g id="text_21">
      <text style="font-size: 10px; font-family: 'DejaVu Sans', sans-serif; text-anchor: middle" x="631.415" y="268.16" transform="rotate(-0 631.415 268.16)">−1</text>
     </g>
    </g>
    <g id="xtick_7">
     <g id="line2d_37">
      <path d="M 742.229202 253.24 
L 742.229202 26.88 
" clip-path="url(#p9f9fd53c19)" style="fill: none; stroke: #b0b0b0; stroke-width: 0.72; stroke-linecap: square" shape-rendering="crispEdges" transform="translate(0.36 0.36)"/>
     </g>
     <g id="line2d_38">
      <g>
       <use xlink:href="#m608a63ae3f" x="742.229202" y="253.24" style="stroke: #000000; stroke-width: 0.72" shape-rendering="crispEdges" transform="translate(0.36 0.36)"/>
      </g>
     </g>
     <g id="text_22">
      <text style="font-size: 10px; font-family: 'DejaVu Sans', sans-serif; text-anchor: middle" x="742.229202" y="268.16" transform="rotate(-0 742.229202 268.16)">0</text>
     </g>
    </g>
    <g id="xtick_8">
     <g id="line2d_39">
      <path d="M 853.043403 253.24 
L 853.043403 26.88 
" clip-path="url(#p9f9fd53c19)" style="fill: none; stroke: #b0b0b0; stroke-width: 0.72; stroke-linecap: square" shape-rendering="crispEdges" transform="translate(0.36 0.36)"/>
     </g>
     <g id="line2d_40">
      <g>
       <use xlink:href="#m608a63ae3f" x="853.043403" y="253.24" style="stroke: #000000; stroke-width: 0.72" shape-rendering="crispEdges" transform="translate(0.36 0.36)"/>
      </g>
     </g>
     <g id="text_23">
      <text style="font-size: 10px; font-family: 'DejaVu Sans', sans-serif; text-anchor: middle" x="853.043403" y="268.16" transform="rotate(-0 853.043403 268.16)">1</text>
     </g>
    </g>
    <g id="xtick_9">
     <g id="line2d_41">
      <path d="M 963.857605 253.24 
L 963.857605 26.88 
" clip-path="url(#p9f9fd53c19)" style="fill: none; stroke: #b0b0b0; stroke-width: 0.72; stroke-linecap: square" shape-rendering="crispEdges" transform="translate(0.36 0.36)"/>
     </g>
     <g id="line2d_42">
      <g>
       <use xlink:href="#m608a63ae3f" x="963.857605" y="253.24" style="stroke: #000000; stroke-width: 0.72" shape-rendering="crispEdges" transform="translate(0.36 0.36)"/>
      </g>
     </g>
     <g id="text_24">
      <text style="font-size: 10px; font-family: 'DejaVu Sans', sans-serif; text-anchor: middle" x="963.857605" y="268.16" transform="rotate(-0 963.857605 268.16)">2</text>
     </g>
    </g>
    <g id="xtick_10">
     <g id="line2d_43">
      <path d="M 1074.671807 253.24 
L 1074.671807 26.88 
" clip-path="url(#p9f9fd53c19)" style="fill: none; stroke: #b0b0b0; stroke-width: 0.72; stroke-linecap: square" shape-rendering="crispEdges" transform="translate(0.36 0.36)"/>
     </g>
     <g id="line2d_44">
      <g>
       <use xlink:href="#m608a63ae3f" x="1074.671807" y="253.24" style="stroke: #000000; stroke-width: 0.72" shape-rendering="crispEdges" transform="translate(0.36 0.36)"/>
      </g>
     </g>
     <g id="text_25">
      <text style="font-size: 10px; font-family: 'DejaVu Sans', sans-serif; text-anchor: middle" x="1074.671807" y="268.16" transform="rotate(-0 1074.671807 268.16)">3</text>
     </g>
    </g>
    <g id="text_26">
     <text style="font-size: 10px; font-family: 'DejaVu Sans', sans-serif; text-anchor: middle" x="881.633467" y="282.24" transform="rotate(-0 881.633467 282.24)">R [Ohm]</text>
    </g>
   </g>
   <g id="matplotlib.axis_4">
    <g id="ytick_10">
     <g id="line2d_45">
      <path d="M 631.415 220.329504 
L 1131.851935 220.329504 
" clip-path="url(#p9f9fd53c19)" style="fill: none; stroke: #b0b0b0; stroke-width: 0.72; stroke-linecap: square" shape-rendering="crispEdges" transform="translate(0.36 0.36)"/>
     </g>
     <g id="line2d_46">
      <g>
       <use xlink:href="#mea49831cd3" x="631.415" y="220.329504" style="stroke: #000000; stroke-width: 0.72" shape-rendering="crispEdges" transform="translate(0.36 0.36)"/>
      </g>
     </g>
     <g id="text_27">
      <text style="font-size: 10px; font-family: 'DejaVu Sans', sans-serif; text-anchor: end" x="624.415" y="224.289504" transform="rotate(-0 624.415 224.289504)">−0.2</text>
     </g>
    </g>
    <g id="ytick_11">
     <g id="line2d_47">
      <path d="M 631.415 180.194752 
L 1131.851935 180.194752 
" clip-path="url(#p9f9fd53c19)" style="fill: none; stroke: #b0b0b0; stroke-width: 0.72; stroke-linecap: square" shape-rendering="crispEdges" transform="translate(0.36 0.36)"/>
     </g>
     <g id="line2d_48">
      <g>
       <use xlink:href="#mea49831cd3" x="631.415" y="180.194752" style="stroke: #000000; stroke-width: 0.72" shape-rendering="crispEdges" transform="translate(0.36 0.36)"/>
      </g>
     </g>
     <g id="text_28">
      <text style="font-size: 10px; font-family: 'DejaVu Sans', sans-serif; text-anchor: end" x="624.415" y="184.154752" transform="rotate(-0 624.415 184.154752)">−0.1</text>
     </g>
    </g>
    <g id="ytick_12">
     <g id="line2d_49">
      <path d="M 631.415 140.06 
L 1131.851935 140.06 
" clip-path="url(#p9f9fd53c19)" style="fill: none; stroke: #b0b0b0; stroke-width: 0.72; stroke-linecap: square" shape-rendering="crispEdges" transform="translate(0.36 0.36)"/>
     </g>
     <g id="line2d_50">
      <g>
       <use xlink:href="#mea49831cd3" x="631.415" y="140.06" style="stroke: #000000; stroke-width: 0.72" shape-rendering="crispEdges" transform="translate(0.36 0.36)"/>
      </g>
     </g>
     <g id="text_29">
      <text style="font-size: 10px; font-family: 'DejaVu Sans', sans-serif; text-anchor: end" x="624.415" y="144.02" transform="rotate(-0 624.415 144.02)">0.0</text>
     </g>
    </g>
    <g id="ytick_13">
     <g id="line2d_51">
      <path d="M 631.415 99.925248 
L 1131.851935 99.925248 
" clip-path="url(#p9f9fd53c19)" style="fill: none; stroke: #b0b0b0; stroke-width: 0.72; stroke-linecap: square" shape-rendering="crispEdges" transform="translate(0.36 0.36)"/>
     </g>
     <g id="line2d_52">
      <g>
       <use xlink:href="#mea49831cd3" x="631.415" y="99.925248" style="stroke: #000000; stroke-width: 0.72" shape-rendering="crispEdges" transform="translate(0.36 0.36)"/>
      </g>
     </g>
     <g id="text_30">
      <text style="font-size: 10px; font-family: 'DejaVu Sans', sans-serif; text-anchor: end" x="624.415" y="103.885248" transform="rotate(-0 624.415 103.885248)">0.1</text>
     </g>
    </g>
    <g id="ytick_14">
     <g id="line2d_53">
      <path d="M 631.415 59.790496 
L 1131.851935 59.790496 
" clip-path="url(#p9f9fd53c19)" style="fill: none; stroke: #b0b0b0; stroke-width: 0.72; stroke-linecap: square" shape-rendering="crispEdges" transform="translate(0.36 0.36)"/>
     </g>
     <g id="line2d_54">
      <g>
       <use xlink:href="#mea49831cd3" x="631.415" y="59.790496" style="stroke: #000000; stroke-width: 0.72" shape-rendering="crispEdges" transform="translate(0.36 0.36)"/>
      </g>
     </g>
     <g id="text_31">
      <text style="font-size: 10px; font-family: 'DejaVu Sans', sans-serif; text-anchor: end" x="624.415" y="63.750496" transform="rotate(-0 624.415 63.750496)">0.2</text>
     </g>
    </g>
    <g id="text_32">
     <text style="font-size: 10px; font-family: 'DejaVu Sans', sans-serif; text-anchor: middle" x="594.045" y="140.06" transform="rotate(-90 594.045 140.06)">X [Ohm]</text>
    </g>
   </g>
   <g id="line2d_55">
    <path d="M 742.229202 140.06 
L 984.912303 69.021489 
" clip-path="url(#p9f9fd53c19)" style="fill: none; stroke-dasharray: 3.7,1.6; stroke-dashoffset: 0; stroke: #000000"/>
   </g>
   <g id="line2d_56">
    <path d="M 886.093571 -1 
L 884.524711 26.962789 
L 883.049586 42.296784 
L 880.926847 57.270826 
L 880.31521 63.246045 
L 880.926847 75.268472 
L 881.826313 82.467531 
L 883.265458 93.266119 
L 883.985031 100.465178 
L 883.625245 107.664236 
L 882.905672 118.462824 
L 882.401971 129.261412 
L 881.970227 140.06 
L 881.682398 147.259059 
L 884.344817 147.115077 
L 887.223108 145.099341 
L 889.741613 140.779906 
L 891.900331 134.300753 
L 893.699263 126.381789 
L 894.418836 120.622542 
L 894.059049 117.742918 
L 891.180758 114.863295 
L 889.741613 119.18273 
L 888.302467 115.583201 
L 889.741613 112.703577 
L 891.180758 118.462824 
L 892.619904 113.423483 
L 893.339477 118.462824 
L 890.461186 117.023012 
L 891.900331 114.143389 
L 894.059049 117.023012 
L 895.857981 117.742918 
L 898.016699 114.143389 
L 898.736272 107.664236 
L 898.736272 96.145742 
L 899.455845 103.344801 
L 900.89499 107.664236 
L 903.053709 109.104048 
L 904.492854 106.94433 
L 905.572213 101.904989 
L 904.133068 97.585554 
L 906.291786 93.266119 
L 903.413495 91.826307 
L 905.572213 88.946684 
L 907.730931 94.705931 
L 908.450504 100.465178 
L 904.85264 96.865648 
L 907.011359 91.106401 
L 905.572213 99.025366 
L 907.011359 91.106401 
L 908.090718 84.627249 
L 908.450504 78.868002 
L 908.234632 71.093018 
L 909.88965 78.868002 
L 911.328795 86.06706 
L 912.767941 91.106401 
L 914.566872 92.906166 
L 917.085377 91.106401 
L 919.244095 86.06706 
L 921.402813 78.868002 
L 923.201745 71.668943 
L 924.101211 63.246045 
L 924.101211 48.272003 
L 923.201745 39.273179 
L 922.626087 31.354215 
L 924.281104 42.872709 
L 925.360463 45.752332 
L 928.598541 52.951391 
L 933.63555 56.55092 
L 939.392132 55.831014 
L 942.270423 49.711814 
L 944.069355 41.432897 
L 945.148714 34.233838 
L 945.868286 27.03478 
L 948.670467 -1 
M 929.622554 -1 
L 940.831277 27.03478 
L 945.148714 37.833368 
L 953.064014 57.270826 
L 964.217391 86.786966 
L 962.202588 176.775199 
L 966.016323 107.664236 
L 967.455469 78.868002 
L 968.894614 57.270826 
L 970.693546 27.03478 
L 972.374854 -1 
" clip-path="url(#p9f9fd53c19)" style="fill: none; stroke: #0000ff; stroke-width: 2; stroke-linecap: square"/>
   </g>
   <g id="line2d_57">
    <path d="M 631.415 140.06 
L 1131.851935 140.06 
" clip-path="url(#p9f9fd53c19)" style="fill: none; stroke: #353535; stroke-width: 0.72; stroke-linecap: square" shape-rendering="crispEdges" transform="translate(0.36 0.36)"/>
   </g>
   <g id="line2d_58">
    <path d="M 742.229202 253.24 
L 742.229202 26.88 
" clip-path="url(#p9f9fd53c19)" style="fill: none; stroke: #353535; stroke-width: 0.72; stroke-linecap: square" shape-rendering="crispEdges" transform="translate(0.36 0.36)"/>
   </g>
   <g id="patch_12">
    <path d="M 631.415 253.24 
L 631.415 26.88 
" style="fill: none; stroke: #000000; stroke-width: 0.72; stroke-linejoin: miter; stroke-linecap: square" shape-rendering="crispEdges" transform="translate(0.36 0.36)"/>
   </g>
   <g id="patch_13">
    <path d="M 1131.851935 253.24 
L 1131.851935 26.88 
" style="fill: none; stroke: #000000; stroke-width: 0.72; stroke-linejoin: miter; stroke-linecap: square" shape-rendering="crispEdges" transform="translate(0.36 0.36)"/>
   </g>
   <g id="patch_14">
    <path d="M 631.415 253.24 
L 1131.851935 253.24 
" style="fill: none; stroke: #000000; stroke-width: 0.72; stroke-linejoin: miter; stroke-linecap: square" shape-rendering="crispEdges" transform="translate(0.36 0.36)"/>
   </g>
   <g id="patch_15">
    <path d="M 631.415 26.88 
L 1131.851935 26.88 
" style="fill: none; stroke: #000000; stroke-width: 0.72; stroke-linejoin: miter; stroke-linecap: square" shape-rendering="crispEdges" transform="translate(0.36 0.36)"/>
   </g>
   <g id="text_33">
    <text style="font-size: 12px; font-family: 'DejaVu Sans', sans-serif; text-anchor: middle" x="881.633467" y="20.88" transform="translate(881.633467 20.88) scale(1 1.09) translate(-881.633467 -20.88)">Charakterystyka R-X zabezpieczenia odleglosciowego</text>
   </g>
   <g id="legend_2">
    <g id="patch_16">
     <path d="M 1042.241935 123.5325 
L 1126.251935 123.5325 
Q 1127.851935 123.5325 1127.851935 121.9325 
L 1127.851935 32.48 
Q 1127.851935 30.88 1126.251935 30.88 
L 1042.241935 30.88 
Q 1040.641935 30.88 1040.641935 32.48 
L 1040.641935 121.9325 
Q 1040.641935 123.5325 1042.241935 123.5325 
z
" style="fill: #ffffff; opacity: 0.8; stroke: #cccccc; stroke-linejoin: miter"/>
    </g>
    <g id="patch_17">
     <path d="M 1043.841935 39.84 
L 1059.841935 39.84 
L 1059.841935 34.24 
L 1043.841935 34.24 
z
" style="fill: #008000; fill-opacity: 0.2; stroke: #008000; stroke-opacity: 0.2; stroke-linejoin: miter"/>
    </g>
    <g id="text_34">
     <text style="font-size: 8px; font-family: 'DejaVu Sans', sans-serif; text-anchor: start" x="1066.241935" y="39.84" transform="rotate(-0 1066.241935 39.84)">Strefa 1</text>
    </g>
    <g id="patch_18">
     <path d="M 1043.841935 51.04 
L 1059.841935 51.04 
L 1059.841935 45.44 
L 1043.841935 45.44 
z
" style="fill: #ffff00; fill-opacity: 0.2; stroke: #ffff00; stroke-opacity: 0.2; stroke-linejoin: miter"/>
    </g>
    <g id="text_35">
     <text style="font-size: 8px; font-family: 'DejaVu Sans', sans-serif; text-anchor: start" x="1066.241935" y="51.04" transform="rotate(-0 1066.241935 51.04)">Strefa 2</text>
    </g>
    <g id="patch_19">
     <path d="M 1043.841935 62.24 
L 1059.841935 62.24 
L 1059.841935 56.64 
L 1043.841935 56.64 
z
" style="fill: #ff0000; fill-opacity: 0.1; stroke: #ff0000; stroke-opacity: 0.1; stroke-linejoin: miter"/>
    </g>
    <g id="text_36">
     <text style="font-size: 8px; font-family: 'DejaVu Sans', sans-serif; text-anchor: start" x="1066.241935" y="62.24" transform="rotate(-0 1066.241935 62.24)">Strefa 3</text>
    </g>
    <g id="line2d_59">
     <path d="M 1043.841935 70.64 
L 1051.841935 70.64 
L 1059.841935 70.64 
" style="fill: none; stroke-dasharray: 3.7,1.6; stroke-dashoffset: 0; stroke: #000000"/>
    </g>
    <g id="text_37">
     <text style="font-size: 8px; font-family: 'DejaVu Sans', sans-serif; text-anchor: start" x="1066.241935" y="73.44" transform="rotate(-0 1066.241935 73.44)">Linia Z</text>
    </g>
    <g id="line2d_60">
     <path d="M 1043.841935 81.84 
L 1051.841935 81.84 
L 1059.841935 81.84 
" style="fill: none; stroke: #0000ff; stroke-width: 2; stroke-linecap: square"/>
    </g>
    <g id="text_38">
     <text style="font-size: 8px; font-family: 'DejaVu Sans', sans-serif; text-anchor: start" x="1066.241935" y="84.64" transform="rotate(-0 1066.241935 84.64)">Z_L1 (zwarcie)</text>
    </g>
    <g id="PathCollection_4">
     <g>
      <use xlink:href="#m1749b391a8" x="1051.841935" y="94.3925" style="fill: #0000ff; fill-opacity: 0.3; stroke: #0000ff; stroke-opacity: 0.3"/>
     </g>
    </g>
    <g id="text_39">
     <text style="font-size: 8px; font-family: 'DejaVu Sans', sans-serif; text-anchor: start" x="1066.241935" y="96.4925" transform="rotate(-0 1066.241935 96.4925)">Trajektoria L1</text>
    </g>
    <g id="PathCollection_5">
     <g>
      <use xlink:href="#m7df83b3445" x="1051.841935" y="105.5925" style="fill: #008000; fill-opacity: 0.3; stroke: #008000; stroke-opacity: 0.3"/>
     </g>
    </g>
    <g id="text_40">
     <text style="font-size: 8px; font-family: 'DejaVu Sans', sans-serif; text-anchor: start" x="1066.241935" y="107.6925" transform="rotate(-0 1066.241935 107.6925)">Trajektoria L2</text>
    </g>
    <g id="PathCollection_6">
     <g>
      <use xlink:href="#m35fae37a4c" x="1051.841935" y="116.7925" style="fill: #ffa500; fill-opacity: 0.3; stroke: #ffa500; stroke-opacity: 0.3"/>
     </g>
    </g>
    <g id="text_41">
     <text style="font-size: 8px; font-family: 'DejaVu Sans', sans-serif; text-anchor: start" x="1066.241935" y="118.8925" transform="rotate(-0 1066.241935 118.8925)">Trajektoria L3</text>
    </g>
   </g>
  </g>
  <g id="axes_3">
   <g id="patch_20">
    <path d="M 62.39 537.64 
L 562.826935 537.64 
L 562.826935 311.28 
L 62.39 311.28 
z
" style="fill: #ffffff"/>
   </g>
   <g id="matplotlib.axis_5">
    <g id="xtick_11">
     <g id="line2d_61">
      <path d="M 147.17477 537.64 
L 147.17477 311.28 
" clip-path="url(#p6dc3c3990d)" style="fill: none; stroke: #b0b0b0; stroke-width: 0.72; stroke-linecap: square" shape-rendering="crispEdges" transform="translate(0.36 0.36)"/>
     </g>
     <g id="line2d_62">
      <g>
       <use xlink:href="#m608a63ae3f" x="147.17477" y="537.64" style="stroke: #000000; stroke-width: 0.72" shape-rendering="crispEdges" transform="translate(0.36 0.36)"/>
      </g>
     </g>
     <g id="text_42">
      <text style="font-size: 10px; font-family: 'DejaVu Sans', sans-serif; text-anchor: middle" x="147.17477" y="552.56" transform="rotate(-0 147.17477 552.56)">0.05</text>
     </g>
    </g>
    <g id="xtick_12">
     <g id="line2d_63">
      <path d="M 250.570831 537.64 
L 250.570831 311.28 
" clip-path="url(#p6dc3c3990d)" style="fill: none; stroke: #b0b0b0; stroke-width: 0.72; stroke-linecap: square" shape-rendering="crispEdges" transform="translate(0.36 0.36)"/>
     </g>
     <g id="line2d_64">
      <g>
       <use xlink:href="#m608a63ae3f" x="250.570831" y="537.64" style="stroke: #000000; stroke-width: 0.72" shape-rendering="crispEdges" transform="translate(0.36 0.36)"/>
      </g>
     </g>
     <g id="text_43">
      <text style="font-size: 10px; font-family: 'DejaVu Sans', sans-serif; text-anchor: middle" x="250.570831" y="552.56" transform="rotate(-0 250.570831 552.56)">0.10</text>
     </g>
    </g>
    <g id="xtick_13">
     <g id="line2d_65">
      <path d="M 353.966892 537.64 
L 353.966892 311.28 
" clip-path="url(#p6dc3c3990d)" style="fill: none; stroke: #b0b0b0; stroke-width: 0.72; stroke-linecap: square" shape-rendering="crispEdges" transform="translate(0.36 0.36)"/>
     </g>
     <g id="line2d_66">
      <g>
       <use xlink:href="#m608a63ae3f" x="353.966892" y="537.64" style="stroke: #000000; stroke-width: 0.72" shape-rendering="crispEdges" transform="translate(0.36 0.36)"/>
      </g>
     </g>
     <g id="text_44">
      <text style="font-size: 10px; font-family: 'DejaVu Sans', sans-serif; text-anchor: middle" x="353.966892" y="552.56" transform="rotate(-0 353.966892 552.56)">0.15</text>
     </g>
    </g>
    <g id="xtick_14">
     <g id="line2d_67">
      <path d="M 457.362953 537.64 
L 457.362953 311.28 
" clip-path="url(#p6dc3c3990d)" style="fill: none; stroke: #b0b0b0; stroke-width: 0.72; stroke-linecap: square" shape-rendering="crispEdges" transform="translate(0.36 0.36)"/>
     </g>
     <g id="line2d_68">
      <g>
       <use xlink:href="#m608a63ae3f" x="457.362953" y="537.64" style="stroke: #000000; stroke-width: 0.72" shape-rendering="crispEdges" transform="translate(0.36 0.36)"/>
      </g>
     </g>
     <g id="text_45">
      <text style="font-size: 10px; font-family: 'DejaVu Sans', sans-serif; text-anchor: middle" x="457.362953" y="552.56" transform="rotate(-0 457.362953 552.56)">0.20</text>
     </g>
    </g>
    <g id="xtick_15">
     <g id="line2d_69">
      <path d="M 560.759013 537.64 
L 560.759013 311.28 
" clip-path="url(#p6dc3c3990d)" style="fill: none; stroke: #b0b0b0; stroke-width: 0.72; stroke-linecap: square" shape-rendering="crispEdges" transform="translate(0.36 0.36)"/>
     </g>
     <g id="line2d_70">
      <g>
       <use xlink:href="#m608a63ae3f" x="560.759013" y="537.64" style="stroke: #000000; stroke-width: 0.72" shape-rendering="crispEdges" transform="translate(0.36 0.36)"/>
      </g>
     </g>
     <g id="text_46">
      <text style="font-size: 10px; font-family: 'DejaVu Sans', sans-serif; text-anchor: middle" x="560.759013" y="552.56" transform="rotate(-0 560.759013 552.56)">0.25</text>
     </g>
    </g>
    <g id="text_47">
     <text style="font-size: 10px; font-family: 'DejaVu Sans', sans-serif; text-anchor: middle" x="312.608467" y="566.64" transform="rotate(-0 312.608467 566.64)">Czas [s]</text>
    </g>
   </g>
   <g id="matplotlib.axis_6">
    <g id="ytick_15">
     <g id="line2d_71">
      <path d="M 62.39 515.246096 
L 562.826935 515.246096 
" clip-path="url(#p6dc3c3990d)" style="fill: none; stroke: #b0b0b0; stroke-width: 0.72; stroke-linecap: square" shape-rendering="crispEdges" transform="translate(0.36 0.36)"/>
     </g>
     <g id="line2d_72">
      <g>
       <use xlink:href="#mea49831cd3" x="62.39" y="515.246096" style="stroke: #000000; stroke-width: 0.72" shape-rendering="crispEdges" transform="translate(0.36 0.36)"/>
      </g>
     </g>
     <g id="text_48">
      <text style="font-size: 10px; font-family: 'DejaVu Sans', sans-serif; text-anchor: end" x="55.39" y="519.206096" transform="rotate(-0 55.39 519.206096)">−75</text>
     </g>
    </g>
    <g id="ytick_16">
     <g id="line2d_73">
      <path d="M 62.39 484.984064 
L 562.826935 484.984064 
" clip-path="url(#p6dc3c3990d)" style="fill: none; stroke: #b0b0b0; stroke-width: 0.72; stroke-linecap: square" shape-rendering="crispEdges" transform="translate(0.36 0.36)"/>
     </g>
     <g id="line2d_74">
      <g>
       <use xlink:href="#mea49831cd3" x="62.39" y="484.984064" style="stroke: #000000; stroke-width: 0.72" shape-rendering="crispEdges" transform="translate(0.36 0.36)"/>
      </g>
     </g>
     <g id="text_49">
      <text style="font-size: 10px; font-family: 'DejaVu Sans', sans-serif; text-anchor: end" x="55.39" y="488.944064" transform="rotate(-0 55.39 488.944064)">−50</text>
     </g>
    </g>
    <g id="ytick_17">
     <g id="line2d_75">
      <path d="M 62.39 454.722032 
L 562.826935 454.722032 
" clip-path="url(#p6dc3c3990d)" style="fill: none; stroke: #b0b0b0; stroke-width: 0.72; stroke-linecap: square" shape-rendering="crispEdges" transform="translate(0.36 0.36)"/>
     </g>
     <g id="line2d_76">
      <g>
       <use xlink:href="#mea49831cd3" x="62.39" y="454.722032" style="stroke: #000000; stroke-width: 0.72" shape-rendering="crispEdges" transform="translate(0.36 0.36)"/>
      </g>
     </g>
     <g id="text_50">
      <text style="font-size: 10px; font-family: 'DejaVu Sans', sans-serif; text-anchor: end" x="55.39" y="458.682032" transform="rotate(-0 55.39 458.682032)">−25</text>
     </g>
    </g>
    <g id="ytick_18">
     <g id="line2d_77">
      <path d="M 62.39 424.46 
L 562.826935 424.46 
" clip-path="url(#p6dc3c3990d)" style="fill: none; stroke: #b0b0b0; stroke-width: 0.72; stroke-linecap: square" shape-rendering="crispEdges" transform="translate(0.36 0.36)"/>
     </g>
     <g id="line2d_78">
      <g>
       <use xlink:href="#mea49831cd3" x="62.39" y="424.46" style="stroke: #000000; stroke-width: 0.72" shape-rendering="crispEdges" transform="translate(0.36 0.36)"/>
      </g>
     </g>
     <g id="text_51">
      <text style="font-size: 10px; font-family: 'DejaVu Sans', sans-serif; text-anchor: end" x="55.39" y="428.42" transform="rotate(-0 55.39 428.42)">0</text>
     </g>
    </g>
    <g id="ytick_19">
     <g id="line2d_79">
      <path d="M 62.39 394.197968 
L 562.826935 394.197968 
" clip-path="url(#p6dc3c3990d)" style="fill: none; stroke: #b0b0b0; stroke-width: 0.72; stroke-linecap: square" shape-rendering="crispEdges" transform="translate(0.36 0.36)"/>
     </g>
     <g id="line2d_80">
      <g>
       <use xlink:href="#mea49831cd3" x="62.39" y="394.197968" style="stroke: #000000; stroke-width: 0.72" shape-rendering="crispEdges" transform="translate(0.36 0.36)"/>
      </g>
     </g>
     <g id="text_52">
      <text style="font-size: 10px; font-family: 'DejaVu Sans', sans-serif; text-anchor: end" x="55.39" y="398.157968" transform="rotate(-0 55.39 398.157968)">25</text>
     </g>
    </g>
    <g id="ytick_20">
     <g id="line2d_81">
      <path d="M 62.39 363.935936 
L 562.826935 363.935936 
" clip-path="url(#p6dc3c3990d)" style="fill: none; stroke: #b0b0b0; stroke-width: 0.72; stroke-linecap: square" shape-rendering="crispEdges" transform="translate(0.36 0.36)"/>
     </g>
     <g id="line2d_82">
      <g>
       <use xlink:href="#mea49831cd3" x="62.39" y="363.935936" style="stroke: #000000; stroke-width: 0.72" shape-rendering="crispEdges" transform="translate(0.36 0.36)"/>
      </g>
     </g>
     <g id="text_53">
      <text style="font-size: 10px; font-family: 'DejaVu Sans', sans-serif; text-anchor: end" x="55.39" y="367.895936" transform="rotate(-0 55.39 367.895936)">50</text>
     </g>
    </g>
    <g id="ytick_21">
     <g id="line2d_83">
      <path d="M 62.39 333.673904 
L 562.826935 333.673904 
" clip-path="url(#p6dc3c3990d)" style="fill: none; stroke: #b0b0b0; stroke-width: 0.72; stroke-linecap: square" shape-rendering="crispEdges" transform="translate(0.36 0.36)"/>
     </g>
     <g id="line2d_84">
      <g>
       <use xlink:href="#mea49831cd3" x="62.39" y="333.673904" style="stroke: #000000; stroke-width: 0.72" shape-rendering="crispEdges" transform="translate(0.36 0.36)"/>
      </g>
     </g>
     <g id="text_54">
      <text style="font-size: 10px; font-family: 'DejaVu Sans', sans-serif; text-anchor: end" x="55.39" y="337.633904" transform="rotate(-0 55.39 337.633904)">75</text>
     </g>
    </g>
    <g id="text_55">
     <text style="font-size: 10px; font-family: 'DejaVu Sans', sans-serif; text-anchor: middle" x="28.26" y="424.46" transform="rotate(-90 28.26 424.46)">Napięcie [V]</text>
    </g>
   </g>
   <g id="line2d_85">
    <path d="M 85.137133 424.508419 
L 89.272976 424.340869 
L 93.408818 423.900027 
L 97.544661 423.370567 
L 118.223873 425.588024 
L 138.903085 423.312804 
L 159.582297 425.615222 
L 180.261509 423.29963 
L 200.940722 425.630913 
L 221.619934 423.26488 
L 238.163303 425.237518 
L 242.299146 425.833815 
L 250.570831 424.76951 
L 258.842516 423.455111 
L 262.978358 422.765326 
L 277.453807 425.070876 
L 283.65757 425.879952 
L 291.929255 424.726306 
L 304.336782 423.161318 
L 325.015995 425.738154 
L 345.695207 423.229595 
L 356.034813 424.46 
L 362.238577 424.616193 
L 368.44234 424.585622 
L 382.917789 424.387371 
L 391.189474 424.387371 
L 411.868686 424.532629 
L 432.547898 424.387371 
L 453.22711 424.532629 
L 473.906322 424.387371 
L 494.585534 424.532629 
L 515.264747 424.387371 
L 535.943959 424.532629 
L 540.079801 424.48421 
L 540.079801 424.48421 
" clip-path="url(#p6dc3c3990d)" style="fill: none; stroke: #0000ff; stroke-width: 1.5; stroke-linecap: square"/>
   </g>
   <g id="line2d_86">
    <path d="M 85.137133 383.908877 
L 87.205055 356.673048 
L 89.272976 339.72631 
L 91.340897 332.463422 
L 93.408818 333.068663 
L 95.476739 337.305348 
L 97.544661 351.662745 
L 99.612582 372.611418 
L 101.680503 398.686863 
L 105.816346 455.858071 
L 107.884267 481.369533 
L 109.952188 501.383051 
L 112.020109 513.906538 
L 114.08803 517.682578 
L 116.155952 512.342294 
L 118.223873 498.380318 
L 120.291794 477.129814 
L 122.359715 450.645282 
L 126.495558 392.572636 
L 128.563479 366.693584 
L 130.6314 346.434092 
L 132.699321 333.811281 
L 134.767243 330.089049 
L 136.835164 335.640297 
L 138.903085 349.905244 
L 140.971006 371.462952 
L 143.038927 398.177784 
L 147.17477 456.30995 
L 149.242691 482.038347 
L 151.310612 502.102391 
L 153.378534 514.563633 
L 155.446455 518.226009 
L 157.514376 512.774023 
L 159.582297 498.735468 
L 161.650218 477.410781 
L 163.71814 450.81111 
L 167.853982 392.283662 
L 169.921903 366.089291 
L 171.989825 345.524103 
L 174.057746 332.677836 
L 176.125667 328.879165 
L 178.193588 334.503656 
L 180.261509 348.957703 
L 182.329431 370.79889 
L 184.397352 397.85628 
L 188.533194 456.665861 
L 190.601115 482.634844 
L 192.669037 502.8259 
L 194.736958 515.286656 
L 196.804879 518.830951 
L 198.8728 513.122532 
L 200.940722 498.743119 
L 203.008643 477.160397 
L 205.076564 450.54229 
L 209.212406 392.982363 
L 211.280328 367.671048 
L 213.348249 348.035026 
L 215.41617 335.93958 
L 217.484091 332.508817 
L 219.552013 338.057082 
L 221.619934 352.031153 
L 223.687855 373.030574 
L 225.755776 398.977489 
L 229.891619 455.304541 
L 231.95954 480.201371 
L 234.027461 499.608821 
L 236.095382 511.659914 
L 238.163303 515.201299 
L 240.231225 509.878892 
L 242.299146 496.195089 
L 244.367067 475.489356 
L 246.434988 449.788513 
L 250.570831 393.707307 
L 252.638752 368.816561 
L 254.706673 349.372583 
L 256.774594 337.278685 
L 258.842516 333.718701 
L 260.910437 339.019468 
L 262.978358 352.656045 
L 265.046279 373.326544 
L 267.114201 399.045032 
L 271.250043 455.419352 
L 273.317964 480.576037 
L 275.385885 500.316312 
L 277.453807 512.677029 
L 279.521728 516.411183 
L 281.589649 511.141953 
L 283.65757 497.373457 
L 285.725491 476.416729 
L 287.793413 450.293733 
L 291.929255 392.992204 
L 293.997176 367.446249 
L 296.065098 347.442336 
L 298.133019 334.975936 
L 300.20094 331.298933 
L 302.268861 336.763271 
L 304.336782 350.811975 
L 306.404704 372.069862 
L 308.472625 398.45606 
L 312.608467 456.032765 
L 314.676389 481.587264 
L 316.74431 501.549748 
L 318.812231 513.96615 
L 320.880152 517.621067 
L 322.948073 512.156729 
L 325.015995 498.108025 
L 327.083916 476.850138 
L 329.151837 450.46394 
L 333.287679 392.887235 
L 335.355601 367.332736 
L 337.423522 347.370252 
L 339.491443 334.95385 
L 341.559364 331.298933 
L 343.627286 336.763271 
L 345.695207 350.811975 
L 347.763128 372.069862 
L 349.831049 400.250374 
L 351.89897 423.249519 
L 353.966892 425.065241 
L 356.034813 424.869386 
L 362.238577 426.828951 
L 364.306498 427.310768 
L 366.374419 427.610612 
L 368.44234 427.706942 
L 370.510261 427.607251 
L 372.578183 427.316317 
L 374.646104 426.823 
L 376.714025 426.11218 
L 382.917789 423.249519 
L 384.98571 422.724217 
L 387.053631 422.524955 
L 389.121552 422.559756 
L 391.189474 422.774436 
L 393.257395 423.163908 
L 395.325316 423.726365 
L 397.393237 424.46 
L 405.664922 428.0183 
L 407.732843 428.579898 
L 409.800765 428.852464 
L 411.868686 428.817733 
L 413.936607 428.46572 
L 416.004528 427.81257 
L 418.072449 426.880963 
L 422.208292 424.425025 
L 424.276213 423.15497 
L 426.344134 422.039037 
L 428.412055 421.215421 
L 430.479977 420.828556 
L 432.547898 420.979062 
L 434.615819 421.586045 
L 436.68374 422.52323 
L 440.819583 424.944175 
L 444.955425 427.537008 
L 447.023346 428.696684 
L 449.091268 429.652318 
L 451.159189 430.295541 
L 453.22711 430.512406 
L 455.295031 430.220472 
L 457.362953 429.463308 
L 459.430874 428.316192 
L 461.498795 426.870023 
L 467.702559 421.924329 
L 469.77048 420.526089 
L 471.838401 419.561891 
L 473.906322 419.235053 
L 475.974244 419.626563 
L 478.042165 420.610046 
L 480.110086 422.039037 
L 484.245928 425.603701 
L 486.31385 427.38595 
L 488.381771 428.928861 
L 490.449692 430.054952 
L 492.517613 430.663691 
L 494.585534 430.754503 
L 496.653456 430.346571 
L 498.721377 429.511392 
L 500.789298 428.33354 
L 502.857219 426.899966 
L 511.128904 420.574689 
L 513.196825 419.425841 
L 515.264747 418.770738 
L 517.332668 418.744036 
L 519.400589 419.306035 
L 521.46851 420.373446 
L 523.536432 421.862095 
L 525.604353 423.667483 
L 531.808116 429.704139 
L 533.876038 431.325735 
L 535.943959 432.298347 
L 538.01188 432.327232 
L 540.079801 431.117647 
L 540.079801 431.117647 
" clip-path="url(#p6dc3c3990d)" style="fill: none; stroke: #008000; stroke-width: 1.5; stroke-linecap: square"/>
   </g>
   <g id="line2d_87">
    <path d="M 85.137133 527.350909 
L 87.205055 522.31507 
L 89.272976 507.700494 
L 91.340897 484.937759 
L 93.408818 456.255039 
L 97.544661 392.664961 
L 99.612582 363.982241 
L 101.680503 341.219506 
L 103.748424 326.60493 
L 105.816346 321.569091 
L 107.884267 326.60493 
L 109.952188 341.219506 
L 112.020109 363.982241 
L 114.08803 392.664961 
L 118.223873 456.255039 
L 120.291794 484.937759 
L 122.359715 507.700494 
L 124.427637 522.31507 
L 126.495558 527.350909 
L 128.563479 522.31507 
L 130.6314 507.700494 
L 132.699321 484.937759 
L 134.767243 456.255039 
L 138.903085 392.664961 
L 140.971006 363.982241 
L 143.038927 341.219506 
L 145.106849 326.60493 
L 147.17477 321.569091 
L 149.242691 326.60493 
L 151.310612 341.219506 
L 153.378534 363.982241 
L 155.446455 392.664961 
L 159.582297 456.255039 
L 161.650218 484.937759 
L 163.71814 507.700494 
L 165.786061 522.31507 
L 167.853982 527.350909 
L 169.921903 522.31507 
L 171.989825 507.700494 
L 174.057746 484.937759 
L 176.125667 456.255039 
L 180.261509 392.664961 
L 182.329431 363.982241 
L 184.397352 341.219506 
L 186.465273 326.60493 
L 188.533194 321.569091 
L 190.601115 326.60493 
L 192.669037 341.219506 
L 194.736958 363.982241 
L 196.804879 392.664961 
L 200.940722 456.255039 
L 203.008643 484.937759 
L 205.076564 507.700494 
L 207.144485 522.31507 
L 209.212406 527.350909 
L 211.280328 522.31507 
L 213.348249 507.700494 
L 215.41617 484.937759 
L 217.484091 456.255039 
L 221.619934 392.664961 
L 223.687855 363.982241 
L 225.755776 341.219506 
L 227.823697 326.60493 
L 229.891619 321.569091 
L 231.95954 326.60493 
L 234.027461 341.219506 
L 236.095382 363.982241 
L 238.163303 392.664961 
L 242.299146 456.255039 
L 244.367067 484.937759 
L 246.434988 507.700494 
L 248.50291 522.31507 
L 250.570831 527.350909 
L 252.638752 522.31507 
L 254.706673 507.700494 
L 256.774594 484.937759 
L 258.842516 456.255039 
L 262.978358 392.664961 
L 265.046279 363.982241 
L 267.114201 341.219506 
L 269.182122 326.60493 
L 271.250043 321.569091 
L 273.317964 326.60493 
L 275.385885 341.219506 
L 277.453807 363.982241 
L 279.521728 392.664961 
L 283.65757 456.255039 
L 285.725491 484.937759 
L 287.793413 507.700494 
L 289.861334 522.31507 
L 291.929255 527.350909 
L 293.997176 522.31507 
L 296.065098 507.700494 
L 298.133019 484.937759 
L 300.20094 456.255039 
L 304.336782 392.664961 
L 306.404704 363.982241 
L 308.472625 341.219506 
L 310.540546 326.60493 
L 312.608467 321.569091 
L 314.676389 326.60493 
L 316.74431 341.219506 
L 318.812231 363.982241 
L 320.880152 392.664961 
L 325.015995 456.255039 
L 327.083916 484.937759 
L 329.151837 507.700494 
L 331.219758 522.31507 
L 333.287679 527.350909 
L 335.355601 522.31507 
L 337.423522 507.700494 
L 339.491443 484.937759 
L 341.559364 456.255039 
L 345.695207 392.664961 
L 347.763128 363.982241 
L 349.831049 341.219506 
L 351.89897 326.60493 
L 353.966892 321.569091 
L 356.034813 326.60493 
L 358.102734 341.219506 
L 360.170655 363.982241 
L 362.238577 392.664961 
L 366.374419 456.255039 
L 368.44234 484.937759 
L 370.510261 507.700494 
L 372.578183 522.31507 
L 374.646104 527.350909 
L 376.714025 522.31507 
L 378.781946 507.700494 
L 380.849867 484.937759 
L 382.917789 456.255039 
L 387.053631 392.664961 
L 389.121552 363.982241 
L 391.189474 341.219506 
L 393.257395 326.60493 
L 395.325316 321.569091 
L 397.393237 326.60493 
L 399.461158 341.219506 
L 401.52908 363.982241 
L 403.597001 392.664961 
L 407.732843 456.255039 
L 409.800765 484.937759 
L 411.868686 507.700494 
L 413.936607 522.31507 
L 416.004528 527.350909 
L 418.072449 522.31507 
L 420.140371 507.700494 
L 422.208292 484.937759 
L 424.276213 456.255039 
L 428.412055 392.664961 
L 430.479977 363.982241 
L 432.547898 341.219506 
L 434.615819 326.60493 
L 436.68374 321.569091 
L 438.751662 326.60493 
L 440.819583 341.219506 
L 442.887504 363.982241 
L 444.955425 392.664961 
L 449.091268 456.255039 
L 451.159189 484.937759 
L 453.22711 507.700494 
L 455.295031 522.31507 
L 457.362953 527.350909 
L 459.430874 522.31507 
L 461.498795 507.700494 
L 463.566716 484.937759 
L 465.634637 456.255039 
L 469.77048 392.664961 
L 471.838401 363.982241 
L 473.906322 341.219506 
L 475.974244 326.60493 
L 478.042165 321.569091 
L 480.110086 326.60493 
L 482.178007 341.219506 
L 484.245928 363.982241 
L 486.31385 392.664961 
L 490.449692 456.255039 
L 492.517613 484.937759 
L 494.585534 507.700494 
L 496.653456 522.31507 
L 498.721377 527.350909 
L 500.789298 522.31507 
L 502.857219 507.700494 
L 504.925141 484.937759 
L 506.993062 456.255039 
L 511.128904 392.664961 
L 513.196825 363.982241 
L 515.264747 341.219506 
L 517.332668 326.60493 
L 519.400589 321.569091 
L 521.46851 326.60493 
L 523.536432 341.219506 
L 525.604353 363.982241 
L 527.672274 392.664961 
L 531.808116 456.255039 
L 533.876038 484.937759 
L 535.943959 507.700494 
L 538.01188 522.31507 
L 540.079801 527.350909 
L 540.079801 527.350909 
" clip-path="url(#p6dc3c3990d)" style="fill: none; stroke: #ffa500; stroke-width: 1.5; stroke-linecap: square"/>
   </g>
   <g id="patch_21">
    <path d="M 62.39 537.64 
L 62.39 311.28 
" style="fill: none; stroke: #000000; stroke-width: 0.72; stroke-linejoin: miter; stroke-linecap: square" shape-rendering="crispEdges" transform="translate(0.36 0.36)"/>
   </g>
   <g id="patch_22">
    <path d="M 562.826935 537.64 
L 562.826935 311.28 
" style="fill: none; stroke: #000000; stroke-width: 0.72; stroke-linejoin: miter; stroke-linecap: square" shape-rendering="crispEdges" transform="translate(0.36 0.36)"/>
   </g>
   <g id="patch_23">
    <path d="M 62.39 537.64 
L 562.826935 537.64 
" style="fill: none; stroke: #000000; stroke-width: 0.72; stroke-linejoin: miter; stroke-linecap: square" shape-rendering="crispEdges" transform="translate(0.36 0.36)"/>
   </g>
   <g id="patch_24">
    <path d="M 62.39 311.28 
L 562.826935 311.28 
" style="fill: none; stroke: #000000; stroke-width: 0.72; stroke-linejoin: miter; stroke-linecap: square" shape-rendering="crispEdges" transform="translate(0.36 0.36)"/>
   </g>
   <g id="text_56">
    <text style="font-size: 12px; font-family: 'DejaVu Sans', sans-serif; text-anchor: middle" x="312.608467" y="305.28" transform="translate(312.608467 305.28) scale(1 1.09) translate(-312.608467 -305.28)">Napięcia faz L1, L2, L3</text>
   </g>
   <g id="legend_3">
    <g id="patch_25">
     <path d="M 499.526935 364.82375 
L 555.826935 364.82375 
Q 557.826935 364.82375 557.826935 362.82375 
L 557.826935 318.28 
Q 557.826935 316.28 555.826935 316.28 
L 499.526935 316.28 
Q 497.526935 316.28 497.526935 318.28 
L 497.526935 362.82375 
Q 497.526935 364.82375 499.526935 364.82375 
z
" style="fill: #ffffff; opacity: 0.8; stroke: #cccccc; stroke-linejoin: miter"/>
    </g>
    <g id="line2d_88">
     <path d="M 501.526935 324.7 
L 511.526935 324.7 
L 521.526935 324.7 
" style="fill: none; stroke: #0000ff; stroke-width: 1.5; stroke-linecap: square"/>
    </g>
    <g id="text_57">
     <text style="font-size: 10px; font-family: 'DejaVu Sans', sans-serif; text-anchor: start" x="529.526935" y="328.2" transform="rotate(-0 529.526935 328.2)">U_L1</text>
    </g>
    <g id="line2d_89">
     <path d="M 501.526935 339.88125 
L 511.526935 339.88125 
L 521.526935 339.88125 
" style="fill: none; stroke: #008000; stroke-width: 1.5; stroke-linecap: square"/>
    </g>
    <g id="text_58">
     <text style="font-size: 10px; font-family: 'DejaVu Sans', sans-serif; text-anchor: start" x="529.526935" y="343.38125" transform="rotate(-0 529.526935 343.38125)">U_L2</text>
    </g>
    <g id="line2d_90">
     <path d="M 501.526935 355.0625 
L 511.526935 355.0625 
L 521.526935 355.0625 
" style="fill: none; stroke: #ffa500; stroke-width: 1.5; stroke-linecap: square"/>
    </g>
    <g id="text_59">
     <text style="font-size: 10px; font-family: 'DejaVu Sans', sans-serif; text-anchor: start" x="529.526935" y="358.5625" transform="rotate(-0 529.526935 358.5625)">U_L3</text>
    </g>
   </g>
  </g>
  <g id="axes_4">
   <g id="patch_26">
    <path d="M 631.415 537.64 
L 1131.851935 537.64 
L 1131.851935 311.28 
L 631.415 311.28 
z
" style="fill: #ffffff"/>
   </g>
   <g id="matplotlib.axis_7">
    <g id="xtick_16">
     <g id="line2d_91">
      <path d="M 716.19977 537.64 
L 716.19977 311.28 
" clip-path="url(#peca6f5291c)" style="fill: none; stroke: #b0b0b0; stroke-width: 0.72; stroke-linecap: square" shape-rendering="crispEdges" transform="translate(0.36 0.36)"/>
     </g>
     <g id="line2d_92">
      <g>
       <use xlink:href="#m608a63ae3f" x="716.19977" y="537.64" style="stroke: #000000; stroke-width: 0.72" shape-rendering="crispEdges" transform="translate(0.36 0.36)"/>
      </g>
     </g>
     <g id="text_60">
      <text style="font-size: 10px; font-family: 'DejaVu Sans', sans-serif; text-anchor: middle" x="716.19977" y="552.56" transform="rotate(-0 716.19977 552.56)">0.05</text>
     </g>
    </g>
    <g id="xtick_17">
     <g id="line2d_93">
      <path d="M 819.595831 537.64 
L 819.595831 311.28 
" clip-path="url(#peca6f5291c)" style="fill: none; stroke: #b0b0b0; stroke-width: 0.72; stroke-linecap: square" shape-rendering="crispEdges" transform="translate(0.36 0.36)"/>
     </g>
     <g id="line2d_94">
      <g>
       <use xlink:href="#m608a63ae3f" x="819.595831" y="537.64" style="stroke: #000000; stroke-width: 0.72" shape-rendering="crispEdges" transform="translate(0.36 0.36)"/>
      </g>
     </g>
     <g id="text_61">
      <text style="font-size: 10px; font-family: 'DejaVu Sans', sans-serif; text-anchor: middle" x="819.595831" y="552.56" transform="rotate(-0 819.595831 552.56)">0.10</text>
     </g>
    </g>
    <g id="xtick_18">
     <g id="line2d_95">
      <path d="M 922.991892 537.64 
L 922.991892 311.28 
" clip-path="url(#peca6f5291c)" style="fill: none; stroke: #b0b0b0; stroke-width: 0.72; stroke-linecap: square" shape-rendering="crispEdges" transform="translate(0.36 0.36)"/>
     </g>
     <g id="line2d_96">
      <g>
       <use xlink:href="#m608a63ae3f" x="922.991892" y="537.64" style="stroke: #000000; stroke-width: 0.72" shape-rendering="crispEdges" transform="translate(0.36 0.36)"/>
      </g>
     </g>
     <g id="text_62">
      <text style="font-size: 10px; font-family: 'DejaVu Sans', sans-serif; text-anchor: middle" x="922.991892" y="552.56" transform="rotate(-0 922.991892 552.56)">0.15</text>
     </g>
    </g>
    <g id="xtick_19">
     <g id="line2d_97">
      <path d="M 1026.387953 537.64 
L 1026.387953 311.28 
" clip-path="url(#peca6f5291c)" style="fill: none; stroke: #b0b0b0; stroke-width: 0.72; stroke-linecap: square" shape-rendering="crispEdges" transform="translate(0.36 0.36)"/>
     </g>
     <g id="line2d_98">
      <g>
       <use xlink:href="#m608a63ae3f" x="1026.387953" y="537.64" style="stroke: #000000; stroke-width: 0.72" shape-rendering="crispEdges" transform="translate(0.36 0.36)"/>
      </g>
     </g>
     <g id="text_63">
      <text style="font-size: 10px; font-family: 'DejaVu Sans', sans-serif; text-anchor: middle" x="1026.387953" y="552.56" transform="rotate(-0 1026.387953 552.56)">0.20</text>
     </g>
    </g>
    <g id="xtick_20">
     <g id="line2d_99">
      <path d="M 1129.784013 537.64 
L 1129.784013 311.28 
" clip-path="url(#peca6f5291c)" style="fill: none; stroke: #b0b0b0; stroke-width: 0.72; stroke-linecap: square" shape-rendering="crispEdges" transform="translate(0.36 0.36)"/>
     </g>
     <g id="line2d_100">
      <g>
       <use xlink:href="#m608a63ae3f" x="1129.784013" y="537.64" style="stroke: #000000; stroke-width: 0.72" shape-rendering="crispEdges" transform="translate(0.36 0.36)"/>
      </g>
     </g>
     <g id="text_64">
      <text style="font-size: 10px; font-family: 'DejaVu Sans', sans-serif; text-anchor: middle" x="1129.784013" y="552.56" transform="rotate(-0 1129.784013 552.56)">0.25</text>
     </g>
    </g>
    <g id="text_65">
     <text style="font-size: 10px; font-family: 'DejaVu Sans', sans-serif; text-anchor: middle" x="881.633467" y="566.64" transform="rotate(-0 881.633467 566.64)">Czas [s]</text>
    </g>
   </g>
   <g id="matplotlib.axis_8">
    <g id="ytick_22">
     <g id="line2d_101">
      <path d="M 631.415 525.174153 
L 1131.851935 525.174153 
" clip-path="url(#peca6f5291c)" style="fill: none; stroke: #b0b0b0; stroke-width: 0.72; stroke-linecap: square" shape-rendering="crispEdges" transform="translate(0.36 0.36)"/>
     </g>
     <g id="line2d_102">
      <g>
       <use xlink:href="#mea49831cd3" x="631.415" y="525.174153" style="stroke: #000000; stroke-width: 0.72" shape-rendering="crispEdges" transform="translate(0.36 0.36)"/>
      </g>
     </g>
     <g id="text_66">
      <text style="font-size: 10px; font-family: 'DejaVu Sans', sans-serif; text-anchor: end" x="624.415" y="529.134153" transform="rotate(-0 624.415 529.134153)">−400</text>
     </g>
    </g>
    <g id="ytick_23">
     <g id="line2d_103">
      <path d="M 631.415 496.461488 
L 1131.851935 496.461488 
" clip-path="url(#peca6f5291c)" style="fill: none; stroke: #b0b0b0; stroke-width: 0.72; stroke-linecap: square" shape-rendering="crispEdges" transform="translate(0.36 0.36)"/>
     </g>
     <g id="line2d_104">
      <g>
       <use xlink:href="#mea49831cd3" x="631.415" y="496.461488" style="stroke: #000000; stroke-width: 0.72" shape-rendering="crispEdges" transform="translate(0.36 0.36)"/>
      </g>
     </g>
     <g id="text_67">
      <text style="font-size: 10px; font-family: 'DejaVu Sans', sans-serif; text-anchor: end" x="624.415" y="500.421488" transform="rotate(-0 624.415 500.421488)">−300</text>
     </g>
    </g>
    <g id="ytick_24">
     <g id="line2d_105">
      <path d="M 631.415 467.748822 
L 1131.851935 467.748822 
" clip-path="url(#peca6f5291c)" style="fill: none; stroke: #b0b0b0; stroke-width: 0.72; stroke-linecap: square" shape-rendering="crispEdges" transform="translate(0.36 0.36)"/>
     </g>
     <g id="line2d_106">
      <g>
       <use xlink:href="#mea49831cd3" x="631.415" y="467.748822" style="stroke: #000000; stroke-width: 0.72" shape-rendering="crispEdges" transform="translate(0.36 0.36)"/>
      </g>
     </g>
     <g id="text_68">
      <text style="font-size: 10px; font-family: 'DejaVu Sans', sans-serif; text-anchor: end" x="624.415" y="471.708822" transform="rotate(-0 624.415 471.708822)">−200</text>
     </g>
    </g>
    <g id="ytick_25">
     <g id="line2d_107">
      <path d="M 631.415 439.036156 
L 1131.851935 439.036156 
" clip-path="url(#peca6f5291c)" style="fill: none; stroke: #b0b0b0; stroke-width: 0.72; stroke-linecap: square" shape-rendering="crispEdges" transform="translate(0.36 0.36)"/>
     </g>
     <g id="line2d_108">
      <g>
       <use xlink:href="#mea49831cd3" x="631.415" y="439.036156" style="stroke: #000000; stroke-width: 0.72" shape-rendering="crispEdges" transform="translate(0.36 0.36)"/>
      </g>
     </g>
     <g id="text_69">
      <text style="font-size: 10px; font-family: 'DejaVu Sans', sans-serif; text-anchor: end" x="624.415" y="442.996156" transform="rotate(-0 624.415 442.996156)">−100</text>
     </g>
    </g>
    <g id="ytick_26">
     <g id="line2d_109">
      <path d="M 631.415 410.32349 
L 1131.851935 410.32349 
" clip-path="url(#peca6f5291c)" style="fill: none; stroke: #b0b0b0; stroke-width: 0.72; stroke-linecap: square" shape-rendering="crispEdges" transform="translate(0.36 0.36)"/>
     </g>
     <g id="line2d_110">
      <g>
       <use xlink:href="#mea49831cd3" x="631.415" y="410.32349" style="stroke: #000000; stroke-width: 0.72" shape-rendering="crispEdges" transform="translate(0.36 0.36)"/>
      </g>
     </g>
     <g id="text_70">
      <text style="font-size: 10px; font-family: 'DejaVu Sans', sans-serif; text-anchor: end" x="624.415" y="414.28349" transform="rotate(-0 624.415 414.28349)">0</text>
     </g>
    </g>
    <g id="ytick_27">
     <g id="line2d_111">
      <path d="M 631.415 381.610824 
L 1131.851935 381.610824 
" clip-path="url(#peca6f5291c)" style="fill: none; stroke: #b0b0b0; stroke-width: 0.72; stroke-linecap: square" shape-rendering="crispEdges" transform="translate(0.36 0.36)"/>
     </g>
     <g id="line2d_112">
      <g>
       <use xlink:href="#mea49831cd3" x="631.415" y="381.610824" style="stroke: #000000; stroke-width: 0.72" shape-rendering="crispEdges" transform="translate(0.36 0.36)"/>
      </g>
     </g>
     <g id="text_71">
      <text style="font-size: 10px; font-family: 'DejaVu Sans', sans-serif; text-anchor: end" x="624.415" y="385.570824" transform="rotate(-0 624.415 385.570824)">100</text>
     </g>
    </g>
    <g id="ytick_28">
     <g id="line2d_113">
      <path d="M 631.415 352.898159 
L 1131.851935 352.898159 
" clip-path="url(#peca6f5291c)" style="fill: none; stroke: #b0b0b0; stroke-width: 0.72; stroke-linecap: square" shape-rendering="crispEdges" transform="translate(0.36 0.36)"/>
     </g>
     <g id="line2d_114">
      <g>
       <use xlink:href="#mea49831cd3" x="631.415" y="352.898159" style="stroke: #000000; stroke-width: 0.72" shape-rendering="crispEdges" transform="translate(0.36 0.36)"/>
      </g>
     </g>
     <g id="text_72">
      <text style="font-size: 10px; font-family: 'DejaVu Sans', sans-serif; text-anchor: end" x="624.415" y="356.858159" transform="rotate(-0 624.415 356.858159)">200</text>
     </g>
    </g>
    <g id="ytick_29">
     <g id="line2d_115">
      <path d="M 631.415 324.185493 
L 1131.851935 324.185493 
" clip-path="url(#peca6f5291c)" style="fill: none; stroke: #b0b0b0; stroke-width: 0.72; stroke-linecap: square" shape-rendering="crispEdges" transform="translate(0.36 0.36)"/>
     </g>
     <g id="line2d_116">
      <g>
       <use xlink:href="#mea49831cd3" x="631.415" y="324.185493" style="stroke: #000000; stroke-width: 0.72" shape-rendering="crispEdges" transform="translate(0.36 0.36)"/>
      </g>
     </g>
     <g id="text_73">
      <text style="font-size: 10px; font-family: 'DejaVu Sans', sans-serif; text-anchor: end" x="624.415" y="328.145493" transform="rotate(-0 624.415 328.145493)">300</text>
     </g>
    </g>
    <g id="text_74">
     <text style="font-size: 10px; font-family: 'DejaVu Sans', sans-serif; text-anchor: middle" x="590.895" y="424.46" transform="rotate(-90 590.895 424.46)">Impedancja [Ohm]</text>
    </g>
   </g>
   <g id="line2d_117">
    <path d="M 654.162133 409.749237 
L 974.689922 409.655369 
L 993.301213 409.271295 
L 995.369134 409.174984 
L 997.437055 408.89082 
L 999.504977 408.313604 
L 1001.572898 407.133096 
L 1003.640819 404.580957 
L 1005.70874 393.957271 
L 1007.776662 381.897951 
L 1009.844583 414.056137 
L 1011.912504 418.07591 
L 1013.980425 416.75071 
L 1016.048346 415.204643 
L 1020.184189 414.482321 
L 1024.320031 414.104904 
L 1030.523795 414.056137 
L 1055.33885 413.955068 
L 1067.746377 413.76901 
L 1109.104801 413.76901 
L 1109.104801 413.76901 
" clip-path="url(#peca6f5291c)" style="fill: none; stroke: #0000ff; stroke-width: 1.5; stroke-linecap: square"/>
   </g>
   <g id="line2d_118">
    <path d="M 654.162133 410.294778 
L 964.350316 410.294778 
L 966.418237 410.148458 
L 972.622001 409.034177 
L 974.689922 408.887857 
L 978.825765 409.096557 
L 993.301213 410.554805 
L 995.369134 410.897744 
L 997.437055 411.59849 
L 999.504977 412.73548 
L 1001.572898 414.056137 
L 1003.640819 416.110971 
L 1005.70874 417.501657 
L 1007.776662 409.46211 
L 1009.844583 389.363244 
L 1011.912504 395.105777 
L 1013.980425 400.485873 
L 1016.048346 404.580957 
L 1018.116268 406.837472 
L 1020.184189 408.313604 
L 1022.25211 409.266182 
L 1026.387953 410.610617 
L 1032.591716 412.58622 
L 1034.659637 413.026366 
L 1036.727559 413.194757 
L 1042.931322 413.091564 
L 1047.067165 412.90763 
L 1049.135086 412.329017 
L 1051.203007 411.316683 
L 1053.270928 410.610617 
L 1057.406771 410.117184 
L 1059.474692 410.036364 
L 1061.542613 410.175063 
L 1069.814298 411.413563 
L 1073.950141 411.847376 
L 1078.085983 412.04625 
L 1098.765195 411.961176 
L 1109.104801 411.759124 
L 1109.104801 411.759124 
" clip-path="url(#peca6f5291c)" style="fill: none; stroke-dasharray: 5.55,2.4; stroke-dashoffset: 0; stroke: #0000ff; stroke-width: 1.5"/>
   </g>
   <g id="line2d_119">
    <path d="M 654.162133 336.244813 
L 656.230055 336.945402 
L 658.297976 337.370349 
L 660.365897 337.588565 
L 664.501739 337.680446 
L 666.569661 336.997369 
L 668.637582 335.591034 
L 670.705503 334.425786 
L 672.773424 334.281738 
L 674.841346 334.60187 
L 681.045109 336.069646 
L 683.11303 336.244813 
L 685.180952 335.946201 
L 687.248873 335.234127 
L 689.316794 334.384232 
L 691.384715 333.672158 
L 693.452637 333.373546 
L 695.520558 333.522852 
L 701.724321 334.659873 
L 703.792243 334.809179 
L 705.860164 334.700838 
L 709.996006 334.051859 
L 714.131849 333.310382 
L 718.267691 332.949917 
L 728.607297 332.395049 
L 734.811061 332.236671 
L 741.014825 332.282632 
L 747.218588 332.544813 
L 751.354431 332.799293 
L 757.558194 333.660673 
L 772.033643 333.660673 
L 774.101564 334.141151 
L 776.169485 335.06827 
L 778.237406 335.670559 
L 784.44117 336.094724 
L 790.644934 336.244813 
L 792.712855 335.930768 
L 796.848697 334.548971 
L 798.916619 334.234926 
L 800.98454 334.384232 
L 807.188303 335.521253 
L 809.256225 335.670559 
L 811.324146 335.019566 
L 813.392067 333.658149 
L 815.459988 332.47365 
L 817.52791 332.152884 
L 819.595831 332.081476 
L 821.663752 332.305435 
L 827.867516 334.010967 
L 829.935437 334.234926 
L 832.003358 334.025898 
L 838.207122 332.434068 
L 840.275043 332.225039 
L 844.410885 332.427176 
L 848.546728 332.73957 
L 852.68257 332.77923 
L 858.886334 332.540426 
L 871.293861 331.957975 
L 873.361782 331.937913 
L 875.429704 332.207094 
L 879.565546 333.391491 
L 881.633467 333.660673 
L 887.837231 333.474615 
L 891.973073 333.373546 
L 896.108916 333.575683 
L 900.244758 333.888077 
L 904.380601 333.947799 
L 922.991892 333.947799 
L 925.059813 338.541826 
L 927.127734 343.70413 
L 929.195655 349.54038 
L 931.263577 357.208024 
L 933.331498 367.298549 
L 935.399419 373.724711 
L 937.46734 378.036995 
L 939.535261 378.425513 
L 941.603183 377.043716 
L 943.671104 377.22317 
L 945.739025 380.363618 
L 947.806946 385.541739 
L 951.942789 404.596467 
L 954.01071 414.612084 
L 956.078631 420.576079 
L 958.146552 420.824882 
L 960.214474 416.363091 
L 962.282395 412.876421 
L 964.350316 412.333377 
L 972.622001 412.434206 
L 987.097449 412.948689 
L 995.369134 413.414983 
L 1005.70874 414.015078 
L 1016.048346 414.319288 
L 1028.455874 414.671449 
L 1036.727559 415.137743 
L 1047.067165 415.737838 
L 1059.474692 416.116055 
L 1090.49351 416.967877 
L 1100.833116 417.509145 
L 1109.104801 418.07591 
L 1109.104801 418.07591 
" clip-path="url(#peca6f5291c)" style="fill: none; stroke: #008000; stroke-width: 1.5; stroke-linecap: square"/>
   </g>
   <g id="line2d_120">
    <path d="M 654.162133 509.956441 
L 658.297976 509.956441 
L 660.365897 509.359217 
L 662.433818 507.935069 
L 664.501739 506.235279 
L 666.569661 504.811131 
L 668.637582 504.213907 
L 670.705503 504.511668 
L 672.773424 505.064653 
L 674.841346 505.362414 
L 676.909267 505.189297 
L 678.977188 504.760957 
L 681.045109 504.213907 
L 683.11303 503.180585 
L 685.180952 501.636445 
L 687.248873 500.232529 
L 689.316794 499.619881 
L 691.384715 499.917642 
L 693.452637 500.470627 
L 695.520558 500.768387 
L 697.588479 500.678804 
L 705.860164 499.907008 
L 728.607297 499.802862 
L 736.878982 499.619881 
L 738.946903 499.453293 
L 743.082746 498.882426 
L 745.150667 498.758501 
L 749.286509 498.981822 
L 755.490273 499.556075 
L 759.626115 499.619881 
L 769.965722 499.679603 
L 778.237406 500.194134 
L 782.373249 499.972774 
L 786.509091 499.408958 
L 788.577013 499.045628 
L 790.644934 498.2063 
L 792.712855 497.046767 
L 794.780776 496.461488 
L 796.848697 496.685805 
L 800.98454 497.672803 
L 803.052461 497.897121 
L 805.120382 497.569584 
L 807.188303 496.795405 
L 809.256225 495.887234 
L 811.324146 494.532422 
L 813.392067 492.928766 
L 815.459988 492.154588 
L 817.52791 492.601229 
L 819.595831 493.430706 
L 821.663752 493.877348 
L 823.731673 493.571751 
L 827.867516 492.154588 
L 829.935437 491.348933 
L 832.003358 490.401604 
L 834.071279 489.61295 
L 836.139201 489.283321 
L 844.410885 489.193594 
L 850.614649 488.709068 
L 852.68257 488.857948 
L 854.750491 489.134441 
L 856.818413 489.283321 
L 867.158019 489.283321 
L 869.22594 489.403571 
L 871.293861 489.715238 
L 873.361782 490.144701 
L 875.429704 491.265599 
L 877.497625 492.154588 
L 889.905152 492.207347 
L 900.244758 492.766365 
L 922.991892 493.015968 
L 927.127734 496.461488 
L 929.195655 496.064473 
L 931.263577 493.735251 
L 933.331498 487.616956 
L 935.399419 480.297183 
L 937.46734 471.784709 
L 939.535261 465.057009 
L 941.603183 462.831778 
L 943.671104 463.077492 
L 945.739025 465.385549 
L 947.806946 466.313189 
L 949.874867 465.179794 
L 951.942789 459.747262 
L 954.01071 449.140163 
L 956.078631 434.787521 
L 958.146552 423.652506 
L 960.214474 416.476204 
L 962.282395 412.497449 
L 964.350316 412.02945 
L 966.418237 412.396824 
L 972.622001 412.648191 
L 1011.912504 413.652365 
L 1024.320031 414.032234 
L 1036.727559 414.056137 
L 1109.104801 414.056137 
L 1109.104801 414.056137 
" clip-path="url(#peca6f5291c)" style="fill: none; stroke-dasharray: 5.55,2.4; stroke-dashoffset: 0; stroke: #008000; stroke-width: 1.5"/>
   </g>
   <g id="line2d_121">
    <path d="M 654.162133 354.333792 
L 658.297976 354.637982 
L 664.501739 355.482299 
L 672.773424 357.168838 
L 678.977188 357.779312 
L 683.11303 358.611979 
L 687.248873 359.502072 
L 693.452637 360.535728 
L 695.520558 360.650578 
L 701.724321 360.363452 
L 703.792243 360.735653 
L 705.860164 361.426884 
L 707.928085 361.799085 
L 718.267691 361.739363 
L 726.539376 361.224832 
L 730.675218 361.314415 
L 747.218588 362.086212 
L 753.422352 361.962173 
L 767.8978 361.511958 
L 780.305328 361.624608 
L 790.644934 361.867911 
L 796.848697 362.275032 
L 803.052461 362.947592 
L 805.120382 363.414749 
L 811.324146 365.562383 
L 813.392067 365.818858 
L 821.663752 365.818858 
L 823.731673 365.962013 
L 827.867516 366.680238 
L 829.935437 367.189139 
L 834.071279 368.419526 
L 836.139201 368.690125 
L 848.546728 368.831003 
L 858.886334 368.745424 
L 871.293861 368.402998 
L 877.497625 368.056461 
L 883.701389 367.751707 
L 898.176837 367.337773 
L 912.652286 367.133295 
L 922.991892 366.967365 
L 927.127734 366.680238 
L 929.195655 365.882657 
L 931.263577 364.369393 
L 933.331498 362.465112 
L 935.399419 359.784753 
L 937.46734 357.671319 
L 939.535261 355.986373 
L 941.603183 355.213265 
L 943.671104 354.85978 
L 945.739025 354.264771 
L 947.806946 352.99915 
L 949.874867 350.650123 
L 951.942789 347.190552 
L 954.01071 341.92272 
L 956.078631 337.041974 
L 958.146552 332.521395 
L 960.214474 329.376769 
L 962.282395 328.169744 
L 966.418237 327.478164 
L 970.55408 326.970237 
L 972.622001 326.431129 
L 974.689922 325.348278 
L 976.757843 324.087314 
L 978.825765 322.621319 
L 980.893686 321.92449 
L 982.961607 321.569091 
L 985.029528 321.58188 
L 989.165371 322.396252 
L 995.369134 324.016527 
L 999.504977 324.574406 
L 1001.572898 324.736058 
L 1003.640819 324.730119 
L 1016.048346 323.640866 
L 1018.116268 323.74583 
L 1020.184189 324.338029 
L 1022.25211 324.451351 
L 1028.455874 324.185493 
L 1055.33885 324.104595 
L 1069.814298 323.898366 
L 1109.104801 323.898366 
L 1109.104801 323.898366 
" clip-path="url(#peca6f5291c)" style="fill: none; stroke: #ffa500; stroke-width: 1.5; stroke-linecap: square"/>
   </g>
   <g id="line2d_122">
    <path d="M 654.162133 514.550467 
L 656.230055 514.882457 
L 660.365897 515.115748 
L 662.433818 515.12472 
L 664.501739 514.706664 
L 666.569661 513.70976 
L 668.637582 512.519907 
L 670.705503 511.523004 
L 672.773424 511.104947 
L 683.11303 511.252498 
L 687.248873 510.530694 
L 689.316794 509.959805 
L 693.452637 508.521929 
L 695.520558 508.233681 
L 720.335612 508.173958 
L 738.946903 507.675506 
L 747.218588 507.946554 
L 755.490273 508.217602 
L 761.694037 508.15924 
L 769.965722 507.946554 
L 772.033643 508.170872 
L 776.169485 509.15787 
L 778.237406 509.382187 
L 784.44117 509.272591 
L 788.577013 509.095061 
L 790.644934 508.72128 
L 794.780776 507.379307 
L 796.848697 507.085174 
L 807.188303 507.085174 
L 809.256225 506.74096 
L 811.324146 505.875221 
L 815.459988 503.580566 
L 817.52791 502.652354 
L 819.595831 502.204021 
L 827.867516 501.916894 
L 829.935437 501.61485 
L 836.139201 499.8963 
L 838.207122 499.619881 
L 846.478807 499.367699 
L 850.614649 499.332754 
L 854.750491 499.576378 
L 860.954255 500.194134 
L 873.361782 500.768387 
L 875.429704 501.114383 
L 879.565546 502.207079 
L 881.633467 502.491147 
L 889.905152 502.661357 
L 898.176837 502.872427 
L 916.788128 504.065139 
L 922.991892 504.213907 
L 931.263577 504.048553 
L 933.331498 504.830461 
L 935.399419 506.2124 
L 937.46734 508.81477 
L 939.535261 510.976338 
L 941.603183 512.796801 
L 943.671104 512.887755 
L 947.806946 510.574867 
L 949.874867 509.564402 
L 951.942789 509.495948 
L 954.01071 510.261833 
L 956.078631 511.927355 
L 958.146552 515.738439 
L 960.214474 518.90154 
L 962.282395 521.55194 
L 964.350316 521.947859 
L 968.486158 521.318134 
L 972.622001 520.893624 
L 974.689922 521.015388 
L 978.825765 522.753424 
L 982.961607 524.796351 
L 985.029528 525.478739 
L 989.165371 526.431224 
L 993.301213 527.123259 
L 995.369134 527.350909 
L 997.437055 527.309055 
L 999.504977 526.839819 
L 1001.572898 526.255438 
L 1005.70874 525.610043 
L 1009.844583 524.860842 
L 1011.912504 524.463895 
L 1016.048346 523.929938 
L 1018.116268 523.763334 
L 1020.184189 523.758636 
L 1032.591716 524.508436 
L 1038.79548 524.599899 
L 1088.425589 524.497071 
L 1109.104801 524.312773 
L 1109.104801 524.312773 
" clip-path="url(#peca6f5291c)" style="fill: none; stroke-dasharray: 5.55,2.4; stroke-dashoffset: 0; stroke: #ffa500; stroke-width: 1.5"/>
   </g>
   <g id="patch_27">
    <path d="M 631.415 537.64 
L 631.415 311.28 
" style="fill: none; stroke: #000000; stroke-width: 0.72; stroke-linejoin: miter; stroke-linecap: square" shape-rendering="crispEdges" transform="translate(0.36 0.36)"/>
   </g>
   <g id="patch_28">
    <path d="M 1131.851935 537.64 
L 1131.851935 311.28 
" style="fill: none; stroke: #000000; stroke-width: 0.72; stroke-linejoin: miter; stroke-linecap: square" shape-rendering="crispEdges" transform="translate(0.36 0.36)"/>
   </g>
   <g id="patch_29">
    <path d="M 631.415 537.64 
L 1131.851935 537.64 
" style="fill: none; stroke: #000000; stroke-width: 0.72; stroke-linejoin: miter; stroke-linecap: square" shape-rendering="crispEdges" transform="translate(0.36 0.36)"/>
   </g>
   <g id="patch_30">
    <path d="M 631.415 311.28 
L 1131.851935 311.28 
" style="fill: none; stroke: #000000; stroke-width: 0.72; stroke-linejoin: miter; stroke-linecap: square" shape-rendering="crispEdges" transform="translate(0.36 0.36)"/>
   </g>
   <g id="text_75">
    <text style="font-size: 12px; font-family: 'DejaVu Sans', sans-serif; text-anchor: middle" x="881.633467" y="305.28" transform="translate(881.633467 305.28) scale(1 1.09) translate(-881.633467 -305.28)">Impedancje faz (R + jX)</text>
   </g>
   <g id="legend_4">
    <g id="patch_31">
     <path d="M 1068.911935 410.3675 
L 1124.851935 410.3675 
Q 1126.851935 410.3675 1126.851935 408.3675 
L 1126.851935 318.28 
Q 1126.851935 316.28 1124.851935 316.28 
L 1068.911935 316.28 
Q 1066.911935 316.28 1066.911935 318.28 
L 1066.911935 408.3675 
Q 1066.911935 410.3675 1068.911935 410.3675 
z
" style="fill: #ffffff; opacity: 0.8; stroke: #cccccc; stroke-linejoin: miter"/>
    </g>
    <g id="line2d_123">
     <path d="M 1070.911935 324.7 
L 1080.911935 324.7 
L 1090.911935 324.7 
" style="fill: none; stroke: #0000ff; stroke-width: 1.5; stroke-linecap: square"/>
    </g>
    <g id="text_76">
     <text style="font-size: 10px; font-family: 'DejaVu Sans', sans-serif; text-anchor: start" x="1098.911935" y="328.2" transform="rotate(-0 1098.911935 328.2)">R_L1</text>
    </g>
    <g id="line2d_124">
     <path d="M 1070.911935 339.88125 
L 1080.911935 339.88125 
L 1090.911935 339.88125 
" style="fill: none; stroke-dasharray: 5.55,2.4; stroke-dashoffset: 0; stroke: #0000ff; stroke-width: 1.5"/>
    </g>
    <g id="text_77">
     <text style="font-size: 10px; font-family: 'DejaVu Sans', sans-serif; text-anchor: start" x="1098.911935" y="343.38125" transform="rotate(-0 1098.911935 343.38125)">X_L1</text>
    </g>
    <g id="line2d_125">
     <path d="M 1070.911935 355.0625 
L 1080.911935 355.0625 
L 1090.911935 355.0625 
" style="fill: none; stroke: #008000; stroke-width: 1.5; stroke-linecap: square"/>
    </g>
    <g id="text_78">
     <text style="font-size: 10px; font-family: 'DejaVu Sans', sans-serif; text-anchor: start" x="1098.911935" y="358.5625" transform="rotate(-0 1098.911935 358.5625)">R_L2</text>
    </g>
    <g id="line2d_126">
     <path d="M 1070.911935 370.24375 
L 1080.911935 370.24375 
L 1090.911935 370.24375 
" style="fill: none; stroke-dasharray: 5.55,2.4; stroke-dashoffset: 0; stroke: #008000; stroke-width: 1.5"/>
    </g>
    <g id="text_79">
     <text style="font-size: 10px; font-family: 'DejaVu Sans', sans-serif; text-anchor: start" x="1098.911935" y="373.74375" transform="rotate(-0 1098.911935 373.74375)">X_L2</text>
    </g>
    <g id="line2d_127">
     <path d="M 1070.911935 385.425 
L 1080.911935 385.425 
L 1090.911935 385.425 
" style="fill: none; stroke: #ffa500; stroke-width: 1.5; stroke-linecap: square"/>
    </g>
    <g id="text_80">
     <text style="font-size: 10px; font-family: 'DejaVu Sans', sans-serif; text-anchor: start" x="1098.911935" y="388.925" transform="rotate(-0 1098.911935 388.925)">R_L3</text>
    </g>
    <g id="line2d_128">
     <path d="M 1070.911935 400.60625 
L 1080.911935 400.60625 
L 1090.911935 400.60625 
" style="fill: none; stroke-dasharray: 5.55,2.4; stroke-dashoffset: 0; stroke: #ffa500; stroke-width: 1.5"/>
    </g>
    <g id="text_81">
     <text style="font-size: 10px; font-family: 'DejaVu Sans', sans-serif; text-anchor: start" x="1098.911935" y="404.10625" transform="rotate(-0 1098.911935 404.10625)">X_L3</text>
    </g>
   </g>
  </g>
  <g id="axes_5">
   <g id="patch_32">
    <path d="M 62.39 822.04 
L 562.826935 822.04 
L 562.826935 595.68 
L 62.39 595.68 
z
" style="fill: #ffffff"/>
   </g>
   <g id="matplotlib.axis_9">
    <g id="xtick_21">
     <g id="line2d_129">
      <path d="M 147.17477 822.04 
L 147.17477 595.68 
" clip-path="url(#p9bfa9318d9)" style="fill: none; stroke: #b0b0b0; stroke-width: 0.72; stroke-linecap: square" shape-rendering="crispEdges" transform="translate(0.36 0.36)"/>
     </g>
     <g id="line2d_130">
      <g>
       <use xlink:href="#m608a63ae3f" x="147.17477" y="822.04" style="stroke: #000000; stroke-width: 0.72" shape-rendering="crispEdges" transform="translate(0.36 0.36)"/>
      </g>
     </g>
     <g id="text_82">
      <text style="font-size: 10px; font-family: 'DejaVu Sans', sans-serif; text-anchor: middle" x="147.17477" y="836.96" transform="rotate(-0 147.17477 836.96)">0.05</text>
     </g>
    </g>
    <g id="xtick_22">
     <g id="line2d_131">
      <path d="M 250.570831 822.04 
L 250.570831 595.68 
" clip-path="url(#p9bfa9318d9)" style="fill: none; stroke: #b0b0b0; stroke-width: 0.72; stroke-linecap: square" shape-rendering="crispEdges" transform="translate(0.36 0.36)"/>
     </g>
     <g id="line2d_132">
      <g>
       <use xlink:href="#m608a63ae3f" x="250.570831" y="822.04" style="stroke: #000000; stroke-width: 0.72" shape-rendering="crispEdges" transform="translate(0.36 0.36)"/>
      </g>
     </g>
     <g id="text_83">
      <text style="font-size: 10px; font-family: 'DejaVu Sans', sans-serif; text-anchor: middle" x="250.570831" y="836.96" transform="rotate(-0 250.570831 836.96)">0.10</text>
     </g>
    </g>
    <g id="xtick_23">
     <g id="line2d_133">
      <path d="M 353.966892 822.04 
L 353.966892 595.68 
" clip-path="url(#p9bfa9318d9)" style="fill: none; stroke: #b0b0b0; stroke-width: 0.72; stroke-linecap: square" shape-rendering="crispEdges" transform="translate(0.36 0.36)"/>
     </g>
     <g id="line2d_134">
      <g>
       <use xlink:href="#m608a63ae3f" x="353.966892" y="822.04" style="stroke: #000000; stroke-width: 0.72" shape-rendering="crispEdges" transform="translate(0.36 0.36)"/>
      </g>
     </g>
     <g id="text_84">
      <text style="font-size: 10px; font-family: 'DejaVu Sans', sans-serif; text-anchor: middle" x="353.966892" y="836.96" transform="rotate(-0 353.966892 836.96)">0.15</text>
     </g>
    </g>
    <g id="xtick_24">
     <g id="line2d_135">
      <path d="M 457.362953 822.04 
L 457.362953 595.68 
" clip-path="url(#p9bfa9318d9)" style="fill: none; stroke: #b0b0b0; stroke-width: 0.72; stroke-linecap: square" shape-rendering="crispEdges" transform="translate(0.36 0.36)"/>
     </g>
     <g id="line2d_136">
      <g>
       <use xlink:href="#m608a63ae3f" x="457.362953" y="822.04" style="stroke: #000000; stroke-width: 0.72" shape-rendering="crispEdges" transform="translate(0.36 0.36)"/>
      </g>
     </g>
     <g id="text_85">
      <text style="font-size: 10px; font-family: 'DejaVu Sans', sans-serif; text-anchor: middle" x="457.362953" y="836.96" transform="rotate(-0 457.362953 836.96)">0.20</text>
     </g>
    </g>
    <g id="xtick_25">
     <g id="line2d_137">
      <path d="M 560.759013 822.04 
L 560.759013 595.68 
" clip-path="url(#p9bfa9318d9)" style="fill: none; stroke: #b0b0b0; stroke-width: 0.72; stroke-linecap: square" shape-rendering="crispEdges" transform="translate(0.36 0.36)"/>
     </g>
     <g id="line2d_138">
      <g>
       <use xlink:href="#m608a63ae3f" x="560.759013" y="822.04" style="stroke: #000000; stroke-width: 0.72" shape-rendering="crispEdges" transform="translate(0.36 0.36)"/>
      </g>
     </g>
     <g id="text_86">
      <text style="font-size: 10px; font-family: 'DejaVu Sans', sans-serif; text-anchor: middle" x="560.759013" y="836.96" transform="rotate(-0 560.759013 836.96)">0.25</text>
     </g>
    </g>
    <g id="text_87">
     <text style="font-size: 10px; font-family: 'DejaVu Sans', sans-serif; text-anchor: middle" x="312.608467" y="851.04" transform="rotate(-0 312.608467 851.04)">Czas [s]</text>
    </g>
   </g>
   <g id="matplotlib.axis_10">
    <g id="ytick_30">
     <g id="line2d_139">
      <path d="M 62.39 812.462605 
L 562.826935 812.462605 
" clip-path="url(#p9bfa9318d9)" style="fill: none; stroke: #b0b0b0; stroke-width: 0.72; stroke-linecap: square" shape-rendering="crispEdges" transform="translate(0.36 0.36)"/>
     </g>
     <g id="line2d_140">
      <g>
       <use xlink:href="#mea49831cd3" x="62.39" y="812.462605" style="stroke: #000000; stroke-width: 0.72" shape-rendering="crispEdges" transform="translate(0.36 0.36)"/>
      </g>
     </g>
     <g id="text_88">
      <text style="font-size: 10px; font-family: 'DejaVu Sans', sans-serif; text-anchor: end" x="55.39" y="816.422605" transform="rotate(-0 55.39 816.422605)">−1.00</text>
     </g>
    </g>
    <g id="ytick_31">
     <g id="line2d_141">
      <path d="M 62.39 787.04489 
L 562.826935 787.04489 
" clip-path="url(#p9bfa9318d9)" style="fill: none; stroke: #b0b0b0; stroke-width: 0.72; stroke-linecap: square" shape-rendering="crispEdges" transform="translate(0.36 0.36)"/>
     </g>
     <g id="line2d_142">
      <g>
       <use xlink:href="#mea49831cd3" x="62.39" y="787.04489" style="stroke: #000000; stroke-width: 0.72" shape-rendering="crispEdges" transform="translate(0.36 0.36)"/>
      </g>
     </g>
     <g id="text_89">
      <text style="font-size: 10px; font-family: 'DejaVu Sans', sans-serif; text-anchor: end" x="55.39" y="791.00489" transform="rotate(-0 55.39 791.00489)">−0.75</text>
     </g>
    </g>
    <g id="ytick_32">
     <g id="line2d_143">
      <path d="M 62.39 761.627176 
L 562.826935 761.627176 
" clip-path="url(#p9bfa9318d9)" style="fill: none; stroke: #b0b0b0; stroke-width: 0.72; stroke-linecap: square" shape-rendering="crispEdges" transform="translate(0.36 0.36)"/>
     </g>
     <g id="line2d_144">
      <g>
       <use xlink:href="#mea49831cd3" x="62.39" y="761.627176" style="stroke: #000000; stroke-width: 0.72" shape-rendering="crispEdges" transform="translate(0.36 0.36)"/>
      </g>
     </g>
     <g id="text_90">
      <text style="font-size: 10px; font-family: 'DejaVu Sans', sans-serif; text-anchor: end" x="55.39" y="765.587176" transform="rotate(-0 55.39 765.587176)">−0.50</text>
     </g>
    </g>
    <g id="ytick_33">
     <g id="line2d_145">
      <path d="M 62.39 736.209461 
L 562.826935 736.209461 
" clip-path="url(#p9bfa9318d9)" style="fill: none; stroke: #b0b0b0; stroke-width: 0.72; stroke-linecap: square" shape-rendering="crispEdges" transform="translate(0.36 0.36)"/>
     </g>
     <g id="line2d_146">
      <g>
       <use xlink:href="#mea49831cd3" x="62.39" y="736.209461" style="stroke: #000000; stroke-width: 0.72" shape-rendering="crispEdges" transform="translate(0.36 0.36)"/>
      </g>
     </g>
     <g id="text_91">
      <text style="font-size: 10px; font-family: 'DejaVu Sans', sans-serif; text-anchor: end" x="55.39" y="740.169461" transform="rotate(-0 55.39 740.169461)">−0.25</text>
     </g>
    </g>
    <g id="ytick_34">
     <g id="line2d_147">
      <path d="M 62.39 710.791746 
L 562.826935 710.791746 
" clip-path="url(#p9bfa9318d9)" style="fill: none; stroke: #b0b0b0; stroke-width: 0.72; stroke-linecap: square" shape-rendering="crispEdges" transform="translate(0.36 0.36)"/>
     </g>
     <g id="line2d_148">
      <g>
       <use xlink:href="#mea49831cd3" x="62.39" y="710.791746" style="stroke: #000000; stroke-width: 0.72" shape-rendering="crispEdges" transform="translate(0.36 0.36)"/>
      </g>
     </g>
     <g id="text_92">
      <text style="font-size: 10px; font-family: 'DejaVu Sans', sans-serif; text-anchor: end" x="55.39" y="714.751746" transform="rotate(-0 55.39 714.751746)">0.00</text>
     </g>
    </g>
    <g id="ytick_35">
     <g id="line2d_149">
      <path d="M 62.39 685.374032 
L 562.826935 685.374032 
" clip-path="url(#p9bfa9318d9)" style="fill: none; stroke: #b0b0b0; stroke-width: 0.72; stroke-linecap: square" shape-rendering="crispEdges" transform="translate(0.36 0.36)"/>
     </g>
     <g id="line2d_150">
      <g>
       <use xlink:href="#mea49831cd3" x="62.39" y="685.374032" style="stroke: #000000; stroke-width: 0.72" shape-rendering="crispEdges" transform="translate(0.36 0.36)"/>
      </g>
     </g>
     <g id="text_93">
      <text style="font-size: 10px; font-family: 'DejaVu Sans', sans-serif; text-anchor: end" x="55.39" y="689.334032" transform="rotate(-0 55.39 689.334032)">0.25</text>
     </g>
    </g>
    <g id="ytick_36">
     <g id="line2d_151">
      <path d="M 62.39 659.956317 
L 562.826935 659.956317 
" clip-path="url(#p9bfa9318d9)" style="fill: none; stroke: #b0b0b0; stroke-width: 0.72; stroke-linecap: square" shape-rendering="crispEdges" transform="translate(0.36 0.36)"/>
     </g>
     <g id="line2d_152">
      <g>
       <use xlink:href="#mea49831cd3" x="62.39" y="659.956317" style="stroke: #000000; stroke-width: 0.72" shape-rendering="crispEdges" transform="translate(0.36 0.36)"/>
      </g>
     </g>
     <g id="text_94">
      <text style="font-size: 10px; font-family: 'DejaVu Sans', sans-serif; text-anchor: end" x="55.39" y="663.916317" transform="rotate(-0 55.39 663.916317)">0.50</text>
     </g>
    </g>
    <g id="ytick_37">
     <g id="line2d_153">
      <path d="M 62.39 634.538602 
L 562.826935 634.538602 
" clip-path="url(#p9bfa9318d9)" style="fill: none; stroke: #b0b0b0; stroke-width: 0.72; stroke-linecap: square" shape-rendering="crispEdges" transform="translate(0.36 0.36)"/>
     </g>
     <g id="line2d_154">
      <g>
       <use xlink:href="#mea49831cd3" x="62.39" y="634.538602" style="stroke: #000000; stroke-width: 0.72" shape-rendering="crispEdges" transform="translate(0.36 0.36)"/>
      </g>
     </g>
     <g id="text_95">
      <text style="font-size: 10px; font-family: 'DejaVu Sans', sans-serif; text-anchor: end" x="55.39" y="638.498602" transform="rotate(-0 55.39 638.498602)">0.75</text>
     </g>
    </g>
    <g id="ytick_38">
     <g id="line2d_155">
      <path d="M 62.39 609.120888 
L 562.826935 609.120888 
" clip-path="url(#p9bfa9318d9)" style="fill: none; stroke: #b0b0b0; stroke-width: 0.72; stroke-linecap: square" shape-rendering="crispEdges" transform="translate(0.36 0.36)"/>
     </g>
     <g id="line2d_156">
      <g>
       <use xlink:href="#mea49831cd3" x="62.39" y="609.120888" style="stroke: #000000; stroke-width: 0.72" shape-rendering="crispEdges" transform="translate(0.36 0.36)"/>
      </g>
     </g>
     <g id="text_96">
      <text style="font-size: 10px; font-family: 'DejaVu Sans', sans-serif; text-anchor: end" x="55.39" y="613.080888" transform="rotate(-0 55.39 613.080888)">1.00</text>
     </g>
    </g>
    <g id="text_97">
     <text style="font-size: 10px; font-family: 'DejaVu Sans', sans-serif; text-anchor: middle" x="18.72" y="708.86" transform="rotate(-90 18.72 708.86)">Wartosc</text>
    </g>
   </g>
   <g id="line2d_157">
    <path d="M 85.137133 702.658078 
L 87.205055 703.064761 
L 89.272976 699.201268 
L 91.340897 690.965929 
L 95.476739 650.500927 
L 97.544661 640.435512 
L 99.612582 649.382548 
L 101.680503 673.580212 
L 103.748424 704.691495 
L 105.816346 732.345968 
L 107.884267 730.922576 
L 109.952188 733.871031 
L 112.020109 744.34313 
L 116.155952 772.302616 
L 118.223873 775.556083 
L 120.291794 767.320744 
L 122.359715 748.613306 
L 124.427637 719.942124 
L 126.495558 694.422738 
L 128.563479 695.236105 
L 130.6314 687.712461 
L 132.699321 673.580212 
L 134.767243 657.719558 
L 136.835164 646.535764 
L 138.903085 643.993992 
L 140.971006 654.161078 
L 143.038927 676.528667 
L 145.106849 705.403191 
L 147.17477 730.109209 
L 149.242691 730.109209 
L 151.310612 733.871031 
L 153.378534 742.106371 
L 157.514376 768.03244 
L 159.582297 777.386159 
L 161.650218 771.59092 
L 163.71814 750.036698 
L 165.786061 722.687237 
L 167.853982 692.389321 
L 169.921903 691.474283 
L 171.989825 686.594082 
L 174.057746 673.580212 
L 176.125667 656.296166 
L 178.193588 646.027409 
L 180.261509 646.535764 
L 182.329431 658.431254 
L 184.397352 679.27378 
L 186.465273 710.791746 
L 188.533194 728.380805 
L 190.601115 731.939285 
L 192.669037 739.259587 
L 194.736958 748.409964 
L 196.804879 762.643884 
L 198.8728 772.200945 
L 200.940722 773.92935 
L 203.008643 761.627176 
L 205.076564 735.192752 
L 207.144485 705.403191 
L 209.212406 691.779296 
L 211.280328 688.932512 
L 213.348249 681.307197 
L 215.41617 666.361581 
L 217.484091 650.500927 
L 219.552013 636.165336 
L 221.619934 629.455059 
L 223.687855 636.165336 
L 225.755776 660.566342 
L 227.823697 704.691495 
L 229.891619 736.616144 
L 231.95954 739.462928 
L 234.027461 748.409964 
L 236.095382 762.643884 
L 240.231225 802.702203 
L 242.299146 811.750909 
L 244.367067 801.278811 
L 246.434988 763.660593 
L 248.50291 720.958832 
L 250.570831 683.035602 
L 252.638752 678.257072 
L 254.706673 669.106694 
L 258.842516 626.099921 
L 260.910437 611.154305 
L 262.978358 605.969091 
L 265.046279 617.559569 
L 267.114201 654.161078 
L 269.182122 702.658078 
L 271.250043 737.734524 
L 273.317964 743.529763 
L 275.385885 753.696849 
L 277.453807 771.387578 
L 279.521728 790.298358 
L 281.589649 800.872127 
L 283.65757 802.702203 
L 285.725491 790.298358 
L 287.793413 755.526924 
L 289.861334 706.216558 
L 291.929255 685.882386 
L 293.997176 680.290489 
L 296.065098 666.361581 
L 300.20094 631.89516 
L 302.268861 623.65982 
L 304.336782 623.049795 
L 306.404704 634.741944 
L 308.472625 665.649885 
L 310.540546 714.858581 
L 312.608467 737.429511 
L 314.676389 742.106371 
L 316.74431 754.510216 
L 318.812231 771.794262 
L 320.880152 785.926511 
L 322.948073 793.958509 
L 325.015995 793.145142 
L 327.083916 778.70788 
L 329.151837 743.326421 
L 331.219758 703.979799 
L 333.287679 685.984057 
L 335.355601 680.290489 
L 337.423522 667.784973 
L 341.559364 635.45364 
L 343.627286 626.811617 
L 345.695207 626.811617 
L 347.763128 641.248879 
L 349.831049 669.208365 
L 351.89897 710.791746 
L 353.966892 736.209461 
L 356.034813 733.159335 
L 358.102734 730.617223 
L 360.170655 728.380805 
L 362.238577 726.330411 
L 364.306498 724.618983 
L 366.374419 723.322063 
L 370.510261 721.263845 
L 374.646104 719.637111 
L 380.849867 717.634153 
L 384.98571 716.485314 
L 389.121552 715.545072 
L 395.325316 714.146885 
L 397.393237 713.415861 
L 401.52908 712.13468 
L 403.597001 712.316748 
L 405.664922 712.292282 
L 407.732843 712.698988 
L 409.800765 712.212723 
L 418.072449 712.065229 
L 420.140371 712.276247 
L 422.208292 712.609282 
L 424.276213 712.151334 
L 426.344134 712.194469 
L 428.412055 711.888294 
L 430.479977 712.070005 
L 434.615819 711.588866 
L 436.68374 711.591509 
L 438.751662 710.739211 
L 440.819583 711.051441 
L 442.887504 710.87888 
L 447.023346 710.007318 
L 449.091268 710.420059 
L 451.159189 710.967379 
L 453.22711 711.159234 
L 455.295031 711.046014 
L 457.362953 711.340899 
L 459.430874 711.484496 
L 461.498795 711.317359 
L 465.634637 710.656112 
L 467.702559 711.412987 
L 469.77048 711.160454 
L 471.838401 711.061928 
L 473.906322 711.305493 
L 475.974244 710.759678 
L 478.042165 710.645309 
L 480.110086 709.97059 
L 484.245928 710.411316 
L 486.31385 709.746229 
L 488.381771 709.967264 
L 490.449692 710.379402 
L 492.517613 710.243845 
L 498.721377 710.784194 
L 500.789298 711.67279 
L 509.060983 710.991478 
L 513.196825 710.307226 
L 515.264747 710.77098 
L 517.332668 710.143496 
L 519.400589 710.707605 
L 521.46851 710.273937 
L 523.536432 710.508967 
L 525.604353 709.678757 
L 527.672274 709.555752 
L 529.740195 709.926887 
L 531.808116 709.491401 
L 533.876038 710.29431 
L 535.943959 710.353984 
L 538.01188 710.686524 
L 540.079801 711.367253 
L 540.079801 711.367253 
" clip-path="url(#p9bfa9318d9)" style="fill: none; stroke: #0000ff; stroke-opacity: 0.5; stroke-width: 1.5; stroke-linecap: square"/>
   </g>
   <g id="line2d_158">
    <path d="M 85.137133 690.088096 
L 87.205055 691.00147 
L 89.272976 693.812688 
L 91.340897 697.905649 
L 93.408818 702.852305 
L 95.476739 708.47715 
L 99.612582 720.82937 
L 101.680503 726.283928 
L 103.748424 730.048145 
L 105.816346 731.495396 
L 107.884267 730.582022 
L 109.952188 727.770804 
L 112.020109 723.677843 
L 114.08803 718.731188 
L 116.155952 713.106342 
L 120.291794 700.754122 
L 122.359715 695.299565 
L 124.427637 691.535347 
L 126.495558 690.088096 
L 128.563479 691.00147 
L 130.6314 693.812688 
L 132.699321 697.905649 
L 134.767243 702.852305 
L 136.835164 708.47715 
L 140.971006 720.82937 
L 143.038927 726.283928 
L 145.106849 730.048145 
L 147.17477 731.495396 
L 149.242691 730.582022 
L 151.310612 727.770804 
L 153.378534 723.677843 
L 155.446455 718.731188 
L 157.514376 713.106342 
L 161.650218 700.754122 
L 163.71814 695.299565 
L 165.786061 691.535347 
L 167.853982 690.088096 
L 169.921903 691.00147 
L 171.989825 693.812688 
L 174.057746 697.905649 
L 176.125667 702.852305 
L 178.193588 708.47715 
L 182.329431 720.82937 
L 184.397352 726.283928 
L 186.465273 730.048145 
L 188.533194 731.495396 
L 190.601115 730.582022 
L 192.669037 727.770804 
L 194.736958 723.677843 
L 196.804879 718.731188 
L 198.8728 713.106342 
L 203.008643 700.754122 
L 205.076564 695.299565 
L 207.144485 691.535347 
L 209.212406 690.088096 
L 211.280328 691.00147 
L 213.348249 693.812688 
L 215.41617 697.905649 
L 217.484091 702.852305 
L 219.552013 708.47715 
L 223.687855 720.82937 
L 225.755776 726.283928 
L 227.823697 730.048145 
L 229.891619 731.495396 
L 231.95954 730.582022 
L 234.027461 727.770804 
L 236.095382 723.677843 
L 238.163303 718.731188 
L 240.231225 713.106342 
L 244.367067 700.754122 
L 246.434988 695.299565 
L 248.50291 691.535347 
L 250.570831 690.088096 
L 252.638752 691.00147 
L 254.706673 693.812688 
L 256.774594 697.905649 
L 258.842516 702.852305 
L 260.910437 708.47715 
L 265.046279 720.82937 
L 267.114201 726.283928 
L 269.182122 730.048145 
L 271.250043 731.495396 
L 273.317964 730.582022 
L 275.385885 727.770804 
L 277.453807 723.677843 
L 279.521728 718.731188 
L 281.589649 713.106342 
L 285.725491 700.754122 
L 287.793413 695.299565 
L 289.861334 691.535347 
L 291.929255 690.088096 
L 293.997176 691.00147 
L 296.065098 693.812688 
L 298.133019 697.905649 
L 300.20094 702.852305 
L 302.268861 708.47715 
L 306.404704 720.82937 
L 308.472625 726.283928 
L 310.540546 730.048145 
L 312.608467 731.495396 
L 314.676389 730.582022 
L 316.74431 727.770804 
L 318.812231 723.677843 
L 320.880152 718.731188 
L 322.948073 713.106342 
L 327.083916 700.754122 
L 329.151837 695.299565 
L 331.219758 691.535347 
L 333.287679 690.088096 
L 335.355601 691.00147 
L 337.423522 693.812688 
L 339.491443 697.905649 
L 341.559364 702.852305 
L 343.627286 708.47715 
L 347.763128 720.82937 
L 349.831049 726.283928 
L 351.89897 730.048145 
L 353.966892 731.125918 
L 356.034813 729.600032 
L 358.102734 726.361996 
L 360.170655 721.813041 
L 364.306498 710.791746 
L 366.374419 705.369247 
L 368.44234 700.643435 
L 370.510261 696.994223 
L 372.578183 694.697101 
L 374.646104 693.914384 
L 376.714025 694.713346 
L 378.781946 697.05213 
L 380.849867 700.742399 
L 382.917789 705.465763 
L 389.121552 721.180534 
L 391.189474 725.18281 
L 393.257395 727.782945 
L 395.325316 728.685817 
L 397.393237 727.804604 
L 399.461158 725.251245 
L 401.52908 721.283801 
L 403.597001 716.2992 
L 407.732843 705.302892 
L 409.800765 700.36758 
L 411.868686 696.462537 
L 413.936607 693.961448 
L 416.004528 693.101017 
L 418.072449 693.966862 
L 420.140371 696.479639 
L 422.208292 700.393382 
L 424.276213 705.324992 
L 428.412055 716.258545 
L 430.479977 721.190286 
L 432.547898 725.104237 
L 434.615819 727.617283 
L 436.68374 728.483417 
L 438.751662 727.617821 
L 440.819583 725.105163 
L 442.887504 721.191312 
L 444.955425 716.259281 
L 449.091268 705.323819 
L 451.159189 700.390678 
L 453.22711 696.475204 
L 455.295031 693.960722 
L 457.362953 693.093486 
L 459.430874 693.958571 
L 461.498795 696.471536 
L 463.566716 700.386664 
L 465.634637 705.320989 
L 469.77048 716.263595 
L 471.838401 721.200988 
L 473.906322 725.120566 
L 475.974244 727.638466 
L 478.042165 728.507893 
L 480.110086 727.643302 
L 482.178007 725.128803 
L 484.245928 721.209982 
L 486.31385 716.269916 
L 490.449692 705.311438 
L 492.517613 700.365368 
L 494.585534 696.437855 
L 496.653456 693.913753 
L 498.721377 693.040767 
L 500.789298 693.905156 
L 502.857219 696.42322 
L 504.925141 700.349402 
L 506.993062 705.30023 
L 511.128904 716.286798 
L 513.196825 721.247546 
L 515.264747 725.188075 
L 517.332668 727.721964 
L 519.400589 728.60015 
L 521.46851 727.735395 
L 523.536432 725.210935 
L 525.604353 721.272476 
L 527.672274 716.30429 
L 531.808116 705.273922 
L 533.876038 700.290922 
L 535.943959 696.331047 
L 538.01188 693.782983 
L 540.079801 692.897675 
L 540.079801 692.897675 
" clip-path="url(#p9bfa9318d9)" style="fill: none; stroke: #008000; stroke-opacity: 0.5; stroke-width: 1.5; stroke-linecap: square"/>
   </g>
   <g id="line2d_159">
    <path d="M 85.137133 721.812316 
L 87.205055 715.078271 
L 91.340897 701.051643 
L 93.408818 695.132086 
L 95.476739 690.745404 
L 97.544661 688.320999 
L 99.612582 688.096187 
L 101.680503 690.092974 
L 103.748424 694.115901 
L 105.816346 699.771177 
L 107.884267 706.505222 
L 112.020109 720.531849 
L 114.08803 726.451407 
L 116.155952 730.838088 
L 118.223873 733.262494 
L 120.291794 733.487306 
L 122.359715 731.490519 
L 124.427637 727.467591 
L 126.495558 721.812316 
L 128.563479 715.078271 
L 132.699321 701.051643 
L 134.767243 695.132086 
L 136.835164 690.745404 
L 138.903085 688.320999 
L 140.971006 688.096187 
L 143.038927 690.096309 
L 145.106849 694.126277 
L 147.17477 699.786054 
L 149.242691 706.515129 
L 153.378534 720.485097 
L 155.446455 726.35336 
L 157.514376 730.681281 
L 159.582297 733.050145 
L 161.650218 733.235133 
L 163.71814 731.226149 
L 165.786061 727.227459 
L 167.853982 721.636415 
L 169.921903 715.00359 
L 174.057746 701.24558 
L 176.125667 695.458938 
L 178.193588 691.178405 
L 180.261509 688.816729 
L 182.329431 688.600533 
L 184.397352 690.542521 
L 186.465273 694.453865 
L 188.533194 699.969057 
L 190.601115 706.56898 
L 194.736958 720.466049 
L 196.804879 726.421712 
L 198.8728 730.9058 
L 200.940722 733.464231 
L 203.008643 733.823536 
L 205.076564 731.921053 
L 207.144485 727.915245 
L 209.212406 722.174444 
L 211.280328 715.244397 
L 215.41617 700.566226 
L 217.484091 694.27324 
L 219.552013 689.555097 
L 221.619934 686.897519 
L 223.687855 686.583149 
L 225.755776 688.651036 
L 227.823697 692.903382 
L 229.891619 698.93594 
L 231.95954 706.167126 
L 236.095382 721.359542 
L 238.163303 727.828703 
L 240.231225 732.659187 
L 242.299146 735.366505 
L 244.367067 735.672804 
L 246.434988 733.535787 
L 248.50291 729.154446 
L 250.570831 722.950822 
L 252.638752 715.529404 
L 256.774594 699.995961 
L 258.842516 693.416657 
L 260.910437 688.532288 
L 262.978358 685.828327 
L 265.046279 685.574458 
L 267.114201 687.79978 
L 269.182122 692.283782 
L 271.250043 698.576424 
L 273.317964 706.048755 
L 277.453807 721.520578 
L 279.521728 727.995276 
L 281.589649 732.751846 
L 283.65757 735.334546 
L 285.725491 735.504689 
L 287.793413 733.261644 
L 289.861334 728.840199 
L 291.929255 722.685023 
L 293.997176 715.40519 
L 298.133019 700.357282 
L 300.20094 694.045827 
L 302.268861 689.384035 
L 304.336782 686.815709 
L 306.404704 686.583149 
L 308.472625 688.713056 
L 310.540546 693.004178 
L 312.608467 699.036472 
L 314.676389 706.219454 
L 318.812231 721.181189 
L 320.880152 727.495384 
L 322.948073 732.174511 
L 325.015995 734.760544 
L 327.083916 735.000343 
L 329.151837 732.870437 
L 331.219758 728.579314 
L 333.287679 722.547021 
L 335.355601 715.364039 
L 339.491443 700.402303 
L 341.559364 694.088108 
L 343.627286 689.408982 
L 345.695207 686.822949 
L 347.763128 686.541625 
L 349.831049 688.587651 
L 351.89897 692.750149 
L 353.966892 698.389499 
L 360.170655 717.838155 
L 362.238577 722.925383 
L 364.306498 726.593427 
L 366.374419 728.731861 
L 368.44234 729.387552 
L 370.510261 728.522938 
L 372.578183 725.981981 
L 374.646104 722.035269 
L 376.714025 717.087059 
L 380.849867 706.166367 
L 382.917789 701.22511 
L 384.98571 697.252832 
L 387.053631 694.608206 
L 389.121552 693.526888 
L 391.189474 694.120291 
L 393.257395 696.34561 
L 395.325316 699.985015 
L 397.393237 704.682259 
L 403.597001 720.28118 
L 405.664922 724.28095 
L 407.732843 726.96036 
L 409.800765 728.057127 
L 411.868686 727.463872 
L 413.936607 725.238634 
L 416.004528 721.599187 
L 418.072449 716.901729 
L 424.276213 701.301001 
L 426.344134 697.300372 
L 428.412055 694.620135 
L 430.479977 693.522711 
L 432.547898 694.115622 
L 434.615819 696.340962 
L 436.68374 699.981047 
L 438.751662 704.679717 
L 444.955425 720.286731 
L 447.023346 724.289696 
L 449.091268 726.971929 
L 451.159189 728.070702 
L 453.22711 727.478221 
L 455.295031 725.252195 
L 457.362953 721.610214 
L 459.430874 716.908484 
L 465.634637 701.287874 
L 467.702559 697.280367 
L 469.77048 694.594484 
L 471.838401 693.493472 
L 473.906322 694.085543 
L 475.974244 696.313246 
L 478.042165 699.959039 
L 480.110086 704.666532 
L 486.31385 720.310877 
L 488.381771 724.325856 
L 490.449692 727.01753 
L 492.517613 728.121871 
L 494.585534 727.530081 
L 496.653456 725.299308 
L 498.721377 721.647125 
L 500.789298 716.930315 
L 506.993062 701.249264 
L 509.060983 697.223158 
L 511.128904 694.523066 
L 513.196825 693.414109 
L 515.264747 694.005852 
L 517.332668 696.241492 
L 519.400589 699.903304 
L 521.46851 704.633836 
L 527.672274 720.367394 
L 529.740195 724.40901 
L 531.808116 727.120633 
L 533.876038 728.235694 
L 535.943959 727.643653 
L 538.01188 725.400945 
L 540.079801 721.725607 
L 540.079801 721.725607 
" clip-path="url(#p9bfa9318d9)" style="fill: none; stroke: #ffa500; stroke-opacity: 0.5; stroke-width: 1.5; stroke-linecap: square"/>
   </g>
   <g id="line2d_160">
    <path d="M 85.137133 710.791746 
L 540.079801 710.791746 
L 540.079801 710.791746 
" clip-path="url(#p9bfa9318d9)" style="fill: none; stroke: #ff0000; stroke-width: 2; stroke-linecap: square" shape-rendering="crispEdges"/>
   </g>
   <g id="line2d_161">
    <path d="M 85.137133 710.791746 
L 540.079801 710.791746 
L 540.079801 710.791746 
" clip-path="url(#p9bfa9318d9)" style="fill: none; stroke-dasharray: 7.4,3.2; stroke-dashoffset: 0; stroke: #8b0000; stroke-width: 2" shape-rendering="crispEdges"/>
   </g>
   <g id="line2d_162">
    <path d="M 85.137133 710.791746 
L 540.079801 710.791746 
L 540.079801 710.791746 
" clip-path="url(#p9bfa9318d9)" style="fill: none; stroke-dasharray: 2,3.3; stroke-dashoffset: 0; stroke: #ff8c00; stroke-width: 2" shape-rendering="crispEdges"/>
   </g>
   <g id="patch_33">
    <path d="M 62.39 822.04 
L 62.39 595.68 
" style="fill: none; stroke: #000000; stroke-width: 0.72; stroke-linejoin: miter; stroke-linecap: square" shape-rendering="crispEdges" transform="translate(0.36 0.36)"/>
   </g>
   <g id="patch_34">
    <path d="M 562.826935 822.04 
L 562.826935 595.68 
" style="fill: none; stroke: #000000; stroke-width: 0.72; stroke-linejoin: miter; stroke-linecap: square" shape-rendering="crispEdges" transform="translate(0.36 0.36)"/>
   </g>
   <g id="patch_35">
    <path d="M 62.39 822.04 
L 562.826935 822.04 
" style="fill: none; stroke: #000000; stroke-width: 0.72; stroke-linejoin: miter; stroke-linecap: square" shape-rendering="crispEdges" transform="translate(0.36 0.36)"/>
   </g>
   <g id="patch_36">
    <path d="M 62.39 595.68 
L 562.826935 595.68 
" style="fill: none; stroke: #000000; stroke-width: 0.72; stroke-linejoin: miter; stroke-linecap: square" shape-rendering="crispEdges" transform="translate(0.36 0.36)"/>
   </g>
   <g id="text_98">
    <text style="font-size: 12px; font-family: 'DejaVu Sans', sans-serif; text-anchor: middle" x="312.608467" y="589.68" transform="translate(312.608467 589.68) scale(1 1.09) translate(-312.608467 -589.68)">Wynik testu algorytmu ZDistA</text>
   </g>
   <g id="legend_5">
    <g id="patch_37">
     <path d="M 480.896935 694.46375 
L 555.826935 694.46375 
Q 557.826935 694.46375 557.826935 692.46375 
L 557.826935 602.68 
Q 557.826935 600.68 555.826935 600.68 
L 480.896935 600.68 
Q 478.896935 600.68 478.896935 602.68 
L 478.896935 692.46375 
Q 478.896935 694.46375 480.896935 694.46375 
z
" style="fill: #ffffff; opacity: 0.8; stroke: #cccccc; stroke-linejoin: miter"/>
    </g>
    <g id="line2d_163">
     <path d="M 482.896935 609.1 
L 492.896935 609.1 
L 502.896935 609.1 
" style="fill: none; stroke: #0000ff; stroke-opacity: 0.5; stroke-width: 1.5; stroke-linecap: square"/>
    </g>
    <g id="text_99">
     <text style="font-size: 10px; font-family: 'DejaVu Sans', sans-serif; text-anchor: start" x="510.896935" y="612.6" transform="rotate(-0 510.896935 612.6)">I_L1</text>
    </g>
    <g id="line2d_164">
     <path d="M 482.896935 624.28125 
L 492.896935 624.28125 
L 502.896935 624.28125 
" style="fill: none; stroke: #008000; stroke-opacity: 0.5; stroke-width: 1.5; stroke-linecap: square"/>
    </g>
    <g id="text_100">
     <text style="font-size: 10px; font-family: 'DejaVu Sans', sans-serif; text-anchor: start" x="510.896935" y="627.78125" transform="rotate(-0 510.896935 627.78125)">I_L2</text>
    </g>
    <g id="line2d_165">
     <path d="M 482.896935 639.4625 
L 492.896935 639.4625 
L 502.896935 639.4625 
" style="fill: none; stroke: #ffa500; stroke-opacity: 0.5; stroke-width: 1.5; stroke-linecap: square"/>
    </g>
    <g id="text_101">
     <text style="font-size: 10px; font-family: 'DejaVu Sans', sans-serif; text-anchor: start" x="510.896935" y="642.9625" transform="rotate(-0 510.896935 642.9625)">I_L3</text>
    </g>
    <g id="line2d_166">
     <path d="M 482.896935 654.64375 
L 492.896935 654.64375 
L 502.896935 654.64375 
" style="fill: none; stroke: #ff0000; stroke-width: 2; stroke-linecap: square" shape-rendering="crispEdges"/>
    </g>
    <g id="text_102">
     <text style="font-size: 10px; font-family: 'DejaVu Sans', sans-serif; text-anchor: start" x="510.896935" y="658.14375" transform="rotate(-0 510.896935 658.14375)">Trip L1-E</text>
    </g>
    <g id="line2d_167">
     <path d="M 482.896935 669.72375 
L 492.896935 669.72375 
L 502.896935 669.72375 
" style="fill: none; stroke-dasharray: 7.4,3.2; stroke-dashoffset: 0; stroke: #8b0000; stroke-width: 2" shape-rendering="crispEdges"/>
    </g>
    <g id="text_103">
     <text style="font-size: 10px; font-family: 'DejaVu Sans', sans-serif; text-anchor: start" x="510.896935" y="673.22375" transform="rotate(-0 510.896935 673.22375)">Trip L2-E</text>
    </g>
    <g id="line2d_168">
     <path d="M 482.896935 684.80375 
L 492.896935 684.80375 
L 502.896935 684.80375 
" style="fill: none; stroke-dasharray: 2,3.3; stroke-dashoffset: 0; stroke: #ff8c00; stroke-width: 2" shape-rendering="crispEdges"/>
    </g>
    <g id="text_104">
     <text style="font-size: 10px; font-family: 'DejaVu Sans', sans-serif; text-anchor: start" x="510.896935" y="688.30375" transform="rotate(-0 510.896935 688.30375)">Trip L3-E</text>
    </g>
   </g>
  </g>
  <g id="axes_6">
   <g id="patch_38">
    <path d="M 631.415 822.04 
L 1131.851935 822.04 
L 1131.851935 595.68 
L 631.415 595.68 
z
" style="fill: #ffffff"/>
   </g>
   <g id="matplotlib.axis_11">
    <g id="xtick_26">
     <g id="line2d_169">
      <path d="M 716.19977 822.04 
L 716.19977 595.68 
" clip-path="url(#pfae59db4d4)" style="fill: none; stroke: #b0b0b0; stroke-width: 0.72; stroke-linecap: square" shape-rendering="crispEdges" transform="translate(0.36 0.36)"/>
     </g>
     <g id="line2d_170">
      <g>
       <use xlink:href="#m608a63ae3f" x="716.19977" y="822.04" style="stroke: #000000; stroke-width: 0.72" shape-rendering="crispEdges" transform="translate(0.36 0.36)"/>
      </g>
     </g>
     <g id="text_105">
      <text style="font-size: 10px; font-family: 'DejaVu Sans', sans-serif; text-anchor: middle" x="716.19977" y="836.96" transform="rotate(-0 716.19977 836.96)">0.05</text>
     </g>
    </g>
    <g id="xtick_27">
     <g id="line2d_171">
      <path d="M 819.595831 822.04 
L 819.595831 595.68 
" clip-path="url(#pfae59db4d4)" style="fill: none; stroke: #b0b0b0; stroke-width: 0.72; stroke-linecap: square" shape-rendering="crispEdges" transform="translate(0.36 0.36)"/>
     </g>
     <g id="line2d_172">
      <g>
       <use xlink:href="#m608a63ae3f" x="819.595831" y="822.04" style="stroke: #000000; stroke-width: 0.72" shape-rendering="crispEdges" transform="translate(0.36 0.36)"/>
      </g>
     </g>
     <g id="text_106">
      <text style="font-size: 10px; font-family: 'DejaVu Sans', sans-serif; text-anchor: middle" x="819.595831" y="836.96" transform="rotate(-0 819.595831 836.96)">0.10</text>
     </g>
    </g>
    <g id="xtick_28">
     <g id="line2d_173">
      <path d="M 922.991892 822.04 
L 922.991892 595.68 
" clip-path="url(#pfae59db4d4)" style="fill: none; stroke: #b0b0b0; stroke-width: 0.72; stroke-linecap: square" shape-rendering="crispEdges" transform="translate(0.36 0.36)"/>
     </g>
     <g id="line2d_174">
      <g>
       <use xlink:href="#m608a63ae3f" x="922.991892" y="822.04" style="stroke: #000000; stroke-width: 0.72" shape-rendering="crispEdges" transform="translate(0.36 0.36)"/>
      </g>
     </g>
     <g id="text_107">
      <text style="font-size: 10px; font-family: 'DejaVu Sans', sans-serif; text-anchor: middle" x="922.991892" y="836.96" transform="rotate(-0 922.991892 836.96)">0.15</text>
     </g>
    </g>
    <g id="xtick_29">
     <g id="line2d_175">
      <path d="M 1026.387953 822.04 
L 1026.387953 595.68 
" clip-path="url(#pfae59db4d4)" style="fill: none; stroke: #b0b0b0; stroke-width: 0.72; stroke-linecap: square" shape-rendering="crispEdges" transform="translate(0.36 0.36)"/>
     </g>
     <g id="line2d_176">
      <g>
       <use xlink:href="#m608a63ae3f" x="1026.387953" y="822.04" style="stroke: #000000; stroke-width: 0.72" shape-rendering="crispEdges" transform="translate(0.36 0.36)"/>
      </g>
     </g>
     <g id="text_108">
      <text style="font-size: 10px; font-family: 'DejaVu Sans', sans-serif; text-anchor: middle" x="1026.387953" y="836.96" transform="rotate(-0 1026.387953 836.96)">0.20</text>
     </g>
    </g>
    <g id="xtick_30">
     <g id="line2d_177">
      <path d="M 1129.784013 822.04 
L 1129.784013 595.68 
" clip-path="url(#pfae59db4d4)" style="fill: none; stroke: #b0b0b0; stroke-width: 0.72; stroke-linecap: square" shape-rendering="crispEdges" transform="translate(0.36 0.36)"/>
     </g>
     <g id="line2d_178">
      <g>
       <use xlink:href="#m608a63ae3f" x="1129.784013" y="822.04" style="stroke: #000000; stroke-width: 0.72" shape-rendering="crispEdges" transform="translate(0.36 0.36)"/>
      </g>
     </g>
     <g id="text_109">
      <text style="font-size: 10px; font-family: 'DejaVu Sans', sans-serif; text-anchor: middle" x="1129.784013" y="836.96" transform="rotate(-0 1129.784013 836.96)">0.25</text>
     </g>
    </g>
    <g id="text_110">
     <text style="font-size: 10px; font-family: 'DejaVu Sans', sans-serif; text-anchor: middle" x="881.633467" y="851.04" transform="rotate(-0 881.633467 851.04)">Czas [s]</text>
    </g>
   </g>
   <g id="matplotlib.axis_12">
    <g id="ytick_39">
     <g id="line2d_179">
      <path d="M 631.415 812.177126 
L 1131.851935 812.177126 
" clip-path="url(#pfae59db4d4)" style="fill: none; stroke: #b0b0b0; stroke-width: 0.72; stroke-linecap: square" shape-rendering="crispEdges" transform="translate(0.36 0.36)"/>
     </g>
     <g id="line2d_180">
      <g>
       <use xlink:href="#mea49831cd3" x="631.415" y="812.177126" style="stroke: #000000; stroke-width: 0.72" shape-rendering="crispEdges" transform="translate(0.36 0.36)"/>
      </g>
     </g>
     <g id="text_111">
      <text style="font-size: 10px; font-family: 'DejaVu Sans', sans-serif; text-anchor: end" x="624.415" y="816.137126" transform="rotate(-0 624.415 816.137126)">0</text>
     </g>
    </g>
    <g id="ytick_40">
     <g id="line2d_181">
      <path d="M 631.415 771.584993 
L 1131.851935 771.584993 
" clip-path="url(#pfae59db4d4)" style="fill: none; stroke: #b0b0b0; stroke-width: 0.72; stroke-linecap: square" shape-rendering="crispEdges" transform="translate(0.36 0.36)"/>
     </g>
     <g id="line2d_182">
      <g>
       <use xlink:href="#mea49831cd3" x="631.415" y="771.584993" style="stroke: #000000; stroke-width: 0.72" shape-rendering="crispEdges" transform="translate(0.36 0.36)"/>
      </g>
     </g>
     <g id="text_112">
      <text style="font-size: 10px; font-family: 'DejaVu Sans', sans-serif; text-anchor: end" x="624.415" y="775.544993" transform="rotate(-0 624.415 775.544993)">100</text>
     </g>
    </g>
    <g id="ytick_41">
     <g id="line2d_183">
      <path d="M 631.415 730.992861 
L 1131.851935 730.992861 
" clip-path="url(#pfae59db4d4)" style="fill: none; stroke: #b0b0b0; stroke-width: 0.72; stroke-linecap: square" shape-rendering="crispEdges" transform="translate(0.36 0.36)"/>
     </g>
     <g id="line2d_184">
      <g>
       <use xlink:href="#mea49831cd3" x="631.415" y="730.992861" style="stroke: #000000; stroke-width: 0.72" shape-rendering="crispEdges" transform="translate(0.36 0.36)"/>
      </g>
     </g>
     <g id="text_113">
      <text style="font-size: 10px; font-family: 'DejaVu Sans', sans-serif; text-anchor: end" x="624.415" y="734.952861" transform="rotate(-0 624.415 734.952861)">200</text>
     </g>
    </g>
    <g id="ytick_42">
     <g id="line2d_185">
      <path d="M 631.415 690.400728 
L 1131.851935 690.400728 
" clip-path="url(#pfae59db4d4)" style="fill: none; stroke: #b0b0b0; stroke-width: 0.72; stroke-linecap: square" shape-rendering="crispEdges" transform="translate(0.36 0.36)"/>
     </g>
     <g id="line2d_186">
      <g>
       <use xlink:href="#mea49831cd3" x="631.415" y="690.400728" style="stroke: #000000; stroke-width: 0.72" shape-rendering="crispEdges" transform="translate(0.36 0.36)"/>
      </g>
     </g>
     <g id="text_114">
      <text style="font-size: 10px; font-family: 'DejaVu Sans', sans-serif; text-anchor: end" x="624.415" y="694.360728" transform="rotate(-0 624.415 694.360728)">300</text>
     </g>
    </g>
    <g id="ytick_43">
     <g id="line2d_187">
      <path d="M 631.415 649.808595 
L 1131.851935 649.808595 
" clip-path="url(#pfae59db4d4)" style="fill: none; stroke: #b0b0b0; stroke-width: 0.72; stroke-linecap: square" shape-rendering="crispEdges" transform="translate(0.36 0.36)"/>
     </g>
     <g id="line2d_188">
      <g>
       <use xlink:href="#mea49831cd3" x="631.415" y="649.808595" style="stroke: #000000; stroke-width: 0.72" shape-rendering="crispEdges" transform="translate(0.36 0.36)"/>
      </g>
     </g>
     <g id="text_115">
      <text style="font-size: 10px; font-family: 'DejaVu Sans', sans-serif; text-anchor: end" x="624.415" y="653.768595" transform="rotate(-0 624.415 653.768595)">400</text>
     </g>
    </g>
    <g id="ytick_44">
     <g id="line2d_189">
      <path d="M 631.415 609.216462 
L 1131.851935 609.216462 
" clip-path="url(#pfae59db4d4)" style="fill: none; stroke: #b0b0b0; stroke-width: 0.72; stroke-linecap: square" shape-rendering="crispEdges" transform="translate(0.36 0.36)"/>
     </g>
     <g id="line2d_190">
      <g>
       <use xlink:href="#mea49831cd3" x="631.415" y="609.216462" style="stroke: #000000; stroke-width: 0.72" shape-rendering="crispEdges" transform="translate(0.36 0.36)"/>
      </g>
     </g>
     <g id="text_116">
      <text style="font-size: 10px; font-family: 'DejaVu Sans', sans-serif; text-anchor: end" x="624.415" y="613.176462" transform="rotate(-0 624.415 613.176462)">500</text>
     </g>
    </g>
    <g id="text_117">
     <text style="font-size: 10px; font-family: 'DejaVu Sans', sans-serif; text-anchor: middle" x="598.905" y="708.86" transform="rotate(-90 598.905 708.86)">|Z| [Ohm]</text>
    </g>
   </g>
   <g id="line2d_191">
    <path d="M 654.162133 811.527652 
L 678.977188 811.75071 
L 807.188303 811.624647 
L 968.486158 811.31653 
L 976.757843 811.041326 
L 985.029528 810.553441 
L 989.165371 810.055295 
L 993.301213 809.140185 
L 995.369134 808.523835 
L 997.437055 807.496329 
L 999.504977 805.923084 
L 1001.572898 804.0587 
L 1003.640819 801.623172 
L 1005.70874 795.128431 
L 1007.776662 771.584993 
L 1011.912504 793.098824 
L 1013.980425 800.811329 
L 1016.048346 803.652779 
L 1018.116268 805.276464 
L 1020.184189 806.200742 
L 1022.25211 806.697189 
L 1026.387953 806.900149 
L 1028.455874 806.775581 
L 1032.591716 806.088307 
L 1034.659637 805.501201 
L 1038.79548 804.0587 
L 1040.863401 803.595661 
L 1044.999244 802.976243 
L 1047.067165 802.840936 
L 1049.135086 803.125081 
L 1051.203007 803.652779 
L 1053.270928 804.36236 
L 1055.33885 804.870543 
L 1061.542613 805.023349 
L 1082.221825 805.230001 
L 1088.425589 805.682385 
L 1102.901038 806.042004 
L 1109.104801 806.088307 
L 1109.104801 806.088307 
" clip-path="url(#pfae59db4d4)" style="fill: none; stroke: #0000ff; stroke-width: 1.5; stroke-linecap: square"/>
   </g>
   <g id="line2d_192">
    <path d="M 654.162133 636.655223 
L 656.230055 637.244382 
L 658.297976 637.599972 
L 660.365897 638.463271 
L 662.433818 640.149773 
L 664.501739 642.081209 
L 666.569661 643.091482 
L 668.637582 642.526727 
L 670.705503 641.168374 
L 672.773424 640.431541 
L 674.841346 640.385436 
L 676.909267 641.018037 
L 681.045109 642.947279 
L 683.11303 644.245205 
L 685.180952 645.679838 
L 687.248873 646.570458 
L 689.316794 646.458447 
L 693.452637 644.616291 
L 695.520558 644.432599 
L 697.588479 644.854663 
L 701.724321 646.073022 
L 703.792243 646.439997 
L 705.860164 646.438091 
L 709.996006 645.844787 
L 714.131849 645.163332 
L 718.267691 644.8338 
L 726.539376 644.475119 
L 732.74314 644.397529 
L 736.878982 644.464796 
L 738.946903 644.655913 
L 743.082746 645.364762 
L 745.150667 645.5789 
L 749.286509 645.554362 
L 751.354431 645.457448 
L 753.422352 645.500268 
L 757.558194 645.79394 
L 769.965722 645.729869 
L 772.033643 645.577012 
L 774.101564 645.835045 
L 776.169485 646.526401 
L 778.237406 647.007044 
L 782.373249 647.528918 
L 786.509091 648.31845 
L 788.577013 648.758703 
L 792.712855 650.644525 
L 794.780776 650.631529 
L 798.916619 648.932519 
L 800.98454 648.545652 
L 803.052461 648.635509 
L 805.120382 649.378508 
L 809.256225 651.64358 
L 811.324146 652.469832 
L 813.392067 652.84959 
L 815.459988 652.500489 
L 817.52791 651.730407 
L 819.595831 650.809058 
L 821.663752 650.564985 
L 823.731673 651.395836 
L 827.867516 653.990668 
L 829.935437 655.038642 
L 832.003358 655.808535 
L 834.071279 656.124408 
L 836.139201 655.87124 
L 838.207122 655.377173 
L 840.275043 655.169506 
L 842.342964 655.228868 
L 844.410885 655.460609 
L 848.546728 656.168042 
L 850.614649 656.317607 
L 852.68257 656.14796 
L 856.818413 655.583503 
L 867.158019 655.040344 
L 869.22594 654.837793 
L 873.361782 654.017237 
L 875.429704 653.147229 
L 877.497625 652.817458 
L 879.565546 653.392083 
L 881.633467 653.652504 
L 887.837231 653.472553 
L 896.108916 653.067783 
L 902.312679 653.268238 
L 922.991892 653.037327 
L 925.059813 655.506506 
L 927.127734 658.229806 
L 929.195655 663.592836 
L 931.263577 672.37603 
L 933.331498 687.116 
L 937.46734 714.027797 
L 939.535261 722.616758 
L 941.603183 724.290214 
L 943.671104 724.131712 
L 945.739025 723.556908 
L 947.806946 725.61558 
L 949.874867 731.621958 
L 951.942789 741.837424 
L 954.01071 756.966683 
L 956.078631 774.67701 
L 958.146552 788.187649 
L 960.214474 799.988403 
L 962.282395 807.306071 
L 966.418237 806.848181 
L 972.622001 806.52 
L 985.029528 806.088307 
L 991.233292 805.534221 
L 1005.70874 804.0587 
L 1016.048346 803.433509 
L 1028.455874 802.687095 
L 1044.999244 801.289364 
L 1053.270928 801.10805 
L 1078.085983 800.709876 
L 1092.561432 800.25126 
L 1104.968959 799.634995 
L 1109.104801 799.390605 
L 1109.104801 799.390605 
" clip-path="url(#pfae59db4d4)" style="fill: none; stroke: #008000; stroke-width: 1.5; stroke-linecap: square"/>
   </g>
   <g id="line2d_193">
    <path d="M 654.162133 644.664572 
L 656.230055 644.327649 
L 658.297976 644.240144 
L 662.433818 644.502568 
L 664.501739 645.232196 
L 666.569661 646.776085 
L 668.637582 648.631465 
L 670.705503 650.16763 
L 672.773424 650.856903 
L 681.045109 651.136157 
L 683.11303 651.614028 
L 687.248873 653.096852 
L 689.316794 654.056731 
L 691.384715 655.263086 
L 693.452637 656.295324 
L 695.520558 656.732852 
L 701.724321 656.548504 
L 703.792243 656.787312 
L 705.860164 657.227034 
L 707.928085 657.461761 
L 726.539376 657.462295 
L 738.946903 658.159296 
L 743.082746 658.157091 
L 749.286509 657.888448 
L 757.558194 657.461761 
L 761.694037 657.453451 
L 769.965722 657.646711 
L 772.033643 657.368955 
L 776.169485 656.141346 
L 778.237406 655.873784 
L 784.44117 656.083107 
L 788.577013 656.368086 
L 790.644934 656.885972 
L 794.780776 658.73949 
L 796.848697 659.217928 
L 803.052461 659.63905 
L 805.120382 659.92874 
L 807.188303 660.378675 
L 809.256225 661.296119 
L 815.459988 665.875764 
L 817.52791 667.060718 
L 819.595831 667.63226 
L 823.731673 667.906097 
L 827.867516 668.526822 
L 829.935437 669.222053 
L 834.071279 671.474777 
L 836.139201 672.32712 
L 838.207122 672.705579 
L 844.410885 673.022661 
L 850.614649 673.136261 
L 852.68257 673.043122 
L 856.818413 672.503714 
L 860.954255 671.950973 
L 873.361782 670.982827 
L 875.429704 670.46562 
L 879.565546 668.905361 
L 881.633467 668.480811 
L 887.837231 668.166001 
L 896.108916 667.847855 
L 900.244758 667.493365 
L 908.516443 666.614451 
L 920.92397 665.80917 
L 925.059813 665.771804 
L 927.127734 665.807725 
L 929.195655 665.451645 
L 931.263577 664.385598 
L 933.331498 662.192188 
L 935.399419 658.711789 
L 937.46734 654.054374 
L 939.535261 650.229366 
L 941.603183 647.441099 
L 943.671104 647.090197 
L 945.739025 648.18638 
L 947.806946 648.671657 
L 949.874867 648.223242 
L 951.942789 645.727995 
L 954.01071 640.712903 
L 956.078631 634.810077 
L 958.146552 626.678535 
L 960.214474 620.429116 
L 962.282395 616.397252 
L 964.350316 615.627083 
L 970.55408 615.932436 
L 972.622001 615.668177 
L 974.689922 614.600989 
L 976.757843 612.575284 
L 978.825765 610.291944 
L 980.893686 608.512285 
L 982.961607 607.094112 
L 985.029528 606.340778 
L 987.097449 606.077518 
L 989.165371 605.969091 
L 993.301213 606.146429 
L 995.369134 606.299373 
L 997.437055 606.603765 
L 1001.572898 608.152267 
L 1003.640819 608.575657 
L 1007.776662 608.963211 
L 1011.912504 609.548489 
L 1018.116268 610.1325 
L 1020.184189 610.645386 
L 1022.25211 610.592916 
L 1026.387953 609.971532 
L 1032.591716 609.668373 
L 1038.79548 609.564978 
L 1057.406771 609.467647 
L 1069.814298 609.349423 
L 1100.833116 609.543981 
L 1109.104801 609.644111 
L 1109.104801 609.644111 
" clip-path="url(#pfae59db4d4)" style="fill: none; stroke: #ffa500; stroke-width: 1.5; stroke-linecap: square"/>
   </g>
   <g id="line2d_194">
    <path d="M 631.415 811.483001 
L 1131.851935 811.483001 
" clip-path="url(#pfae59db4d4)" style="fill: none; stroke-dasharray: 5.55,2.4; stroke-dashoffset: 0; stroke: #008000; stroke-width: 1.5" shape-rendering="crispEdges"/>
   </g>
   <g id="line2d_195">
    <path d="M 631.415 811.478942 
L 1131.851935 811.478942 
" clip-path="url(#pfae59db4d4)" style="fill: none; stroke-dasharray: 5.55,2.4; stroke-dashoffset: 0; stroke: #ffa500; stroke-width: 1.5" shape-rendering="crispEdges"/>
   </g>
   <g id="line2d_196">
    <path d="M 631.415 810.760461 
L 1131.851935 810.760461 
" clip-path="url(#pfae59db4d4)" style="fill: none; stroke-dasharray: 5.55,2.4; stroke-dashoffset: 0; stroke: #ff0000; stroke-width: 1.5" shape-rendering="crispEdges"/>
   </g>
   <g id="patch_39">
    <path d="M 631.415 822.04 
L 631.415 595.68 
" style="fill: none; stroke: #000000; stroke-width: 0.72; stroke-linejoin: miter; stroke-linecap: square" shape-rendering="crispEdges" transform="translate(0.36 0.36)"/>
   </g>
   <g id="patch_40">
    <path d="M 1131.851935 822.04 
L 1131.851935 595.68 
" style="fill: none; stroke: #000000; stroke-width: 0.72; stroke-linejoin: miter; stroke-linecap: square" shape-rendering="crispEdges" transform="translate(0.36 0.36)"/>
   </g>
   <g id="patch_41">
    <path d="M 631.415 822.04 
L 1131.851935 822.04 
" style="fill: none; stroke: #000000; stroke-width: 0.72; stroke-linejoin: miter; stroke-linecap: square" shape-rendering="crispEdges" transform="translate(0.36 0.36)"/>
   </g>
   <g id="patch_42">
    <path d="M 631.415 595.68 
L 1131.851935 595.68 
" style="fill: none; stroke: #000000; stroke-width: 0.72; stroke-linejoin: miter; stroke-linecap: square" shape-rendering="crispEdges" transform="translate(0.36 0.36)"/>
   </g>
   <g id="text_118">
    <text style="font-size: 12px; font-family: 'DejaVu Sans', sans-serif; text-anchor: middle" x="881.633467" y="589.68" transform="translate(881.633467 589.68) scale(1 1.09) translate(-881.633467 -589.68)">Modul impedancji |Z|</text>
   </g>
   <g id="legend_6">
    <g id="patch_43">
     <path d="M 1048.391935 756.14 
L 1124.851935 756.14 
Q 1126.851935 756.14 1126.851935 754.14 
L 1126.851935 663.58 
Q 1126.851935 661.58 1124.851935 661.58 
L 1048.391935 661.58 
Q 1046.391935 661.58 1046.391935 663.58 
L 1046.391935 754.14 
Q 1046.391935 756.14 1048.391935 756.14 
z
" style="fill: #ffffff; opacity: 0.8; stroke: #cccccc; stroke-linejoin: miter"/>
    </g>
    <g id="line2d_197">
     <path d="M 1050.391935 670 
L 1060.391935 670 
L 1070.391935 670 
" style="fill: none; stroke: #0000ff; stroke-width: 1.5; stroke-linecap: square"/>
    </g>
    <g id="text_119">
     <text style="font-size: 10px; font-family: 'DejaVu Sans', sans-serif; text-anchor: start" x="1078.391935" y="673.5" transform="rotate(-0 1078.391935 673.5)">|Z_L1|</text>
    </g>
    <g id="line2d_198">
     <path d="M 1050.391935 685.44 
L 1060.391935 685.44 
L 1070.391935 685.44 
" style="fill: none; stroke: #008000; stroke-width: 1.5; stroke-linecap: square"/>
    </g>
    <g id="text_120">
     <text style="font-size: 10px; font-family: 'DejaVu Sans', sans-serif; text-anchor: start" x="1078.391935" y="688.94" transform="rotate(-0 1078.391935 688.94)">|Z_L2|</text>
    </g>
    <g id="line2d_199">
     <path d="M 1050.391935 700.88 
L 1060.391935 700.88 
L 1070.391935 700.88 
" style="fill: none; stroke: #ffa500; stroke-width: 1.5; stroke-linecap: square"/>
    </g>
    <g id="text_121">
     <text style="font-size: 10px; font-family: 'DejaVu Sans', sans-serif; text-anchor: start" x="1078.391935" y="704.38" transform="rotate(-0 1078.391935 704.38)">|Z_L3|</text>
    </g>
    <g id="line2d_200">
     <path d="M 1050.391935 716.32 
L 1060.391935 716.32 
L 1070.391935 716.32 
" style="fill: none; stroke-dasharray: 5.55,2.4; stroke-dashoffset: 0; stroke: #008000; stroke-width: 1.5"/>
    </g>
    <g id="text_122">
     <text style="font-size: 10px; font-family: 'DejaVu Sans', sans-serif; text-anchor: start" x="1078.391935" y="719.82" transform="rotate(-0 1078.391935 719.82)">Z1 reach</text>
    </g>
    <g id="line2d_201">
     <path d="M 1050.391935 731.4 
L 1060.391935 731.4 
L 1070.391935 731.4 
" style="fill: none; stroke-dasharray: 5.55,2.4; stroke-dashoffset: 0; stroke: #ffa500; stroke-width: 1.5"/>
    </g>
    <g id="text_123">
     <text style="font-size: 10px; font-family: 'DejaVu Sans', sans-serif; text-anchor: start" x="1078.391935" y="734.9" transform="rotate(-0 1078.391935 734.9)">Z2 reach</text>
    </g>
    <g id="line2d_202">
     <path d="M 1050.391935 746.48 
L 1060.391935 746.48 
L 1070.391935 746.48 
" style="fill: none; stroke-dasharray: 5.55,2.4; stroke-dashoffset: 0; stroke: #ff0000; stroke-width: 1.5"/>
    </g>
    <g id="text_124">
     <text style="font-size: 10px; font-family: 'DejaVu Sans', sans-serif; text-anchor: start" x="1078.391935" y="749.98" transform="rotate(-0 1078.391935 749.98)">Z3 reach</text>
    </g>
   </g>
  </g>
 </g>
 <defs>
  <clipPath id="pdb59838db3">
   <rect x="62.39" y="26.88" width="500.436935" height="226.36"/>
  </clipPath>
  <clipPath id="p9f9fd53c19">
   <rect x="631.415" y="26.88" width="500.436935" height="226.36"/>
  </clipPath>
  <clipPath id="p6dc3c3990d">
   <rect x="62.39" y="311.28" width="500.436935" height="226.36"/>
  </clipPath>
  <clipPath id="peca6f5291c">
   <rect x="631.415" y="311.28" width="500.436935" height="226.36"/>
  </clipPath>
  <clipPath id="p9bfa9318d9">
   <rect x="62.39" y="595.68" width="500.436935" height="226.36"/>
  </clipPath>
  <clipPath id="pfae59db4d4">
   <rect x="631.415" y="595.68" width="500.436935" height="226.36"/>
  </clipPath>
 </defs>
</svg>

</body></html>
